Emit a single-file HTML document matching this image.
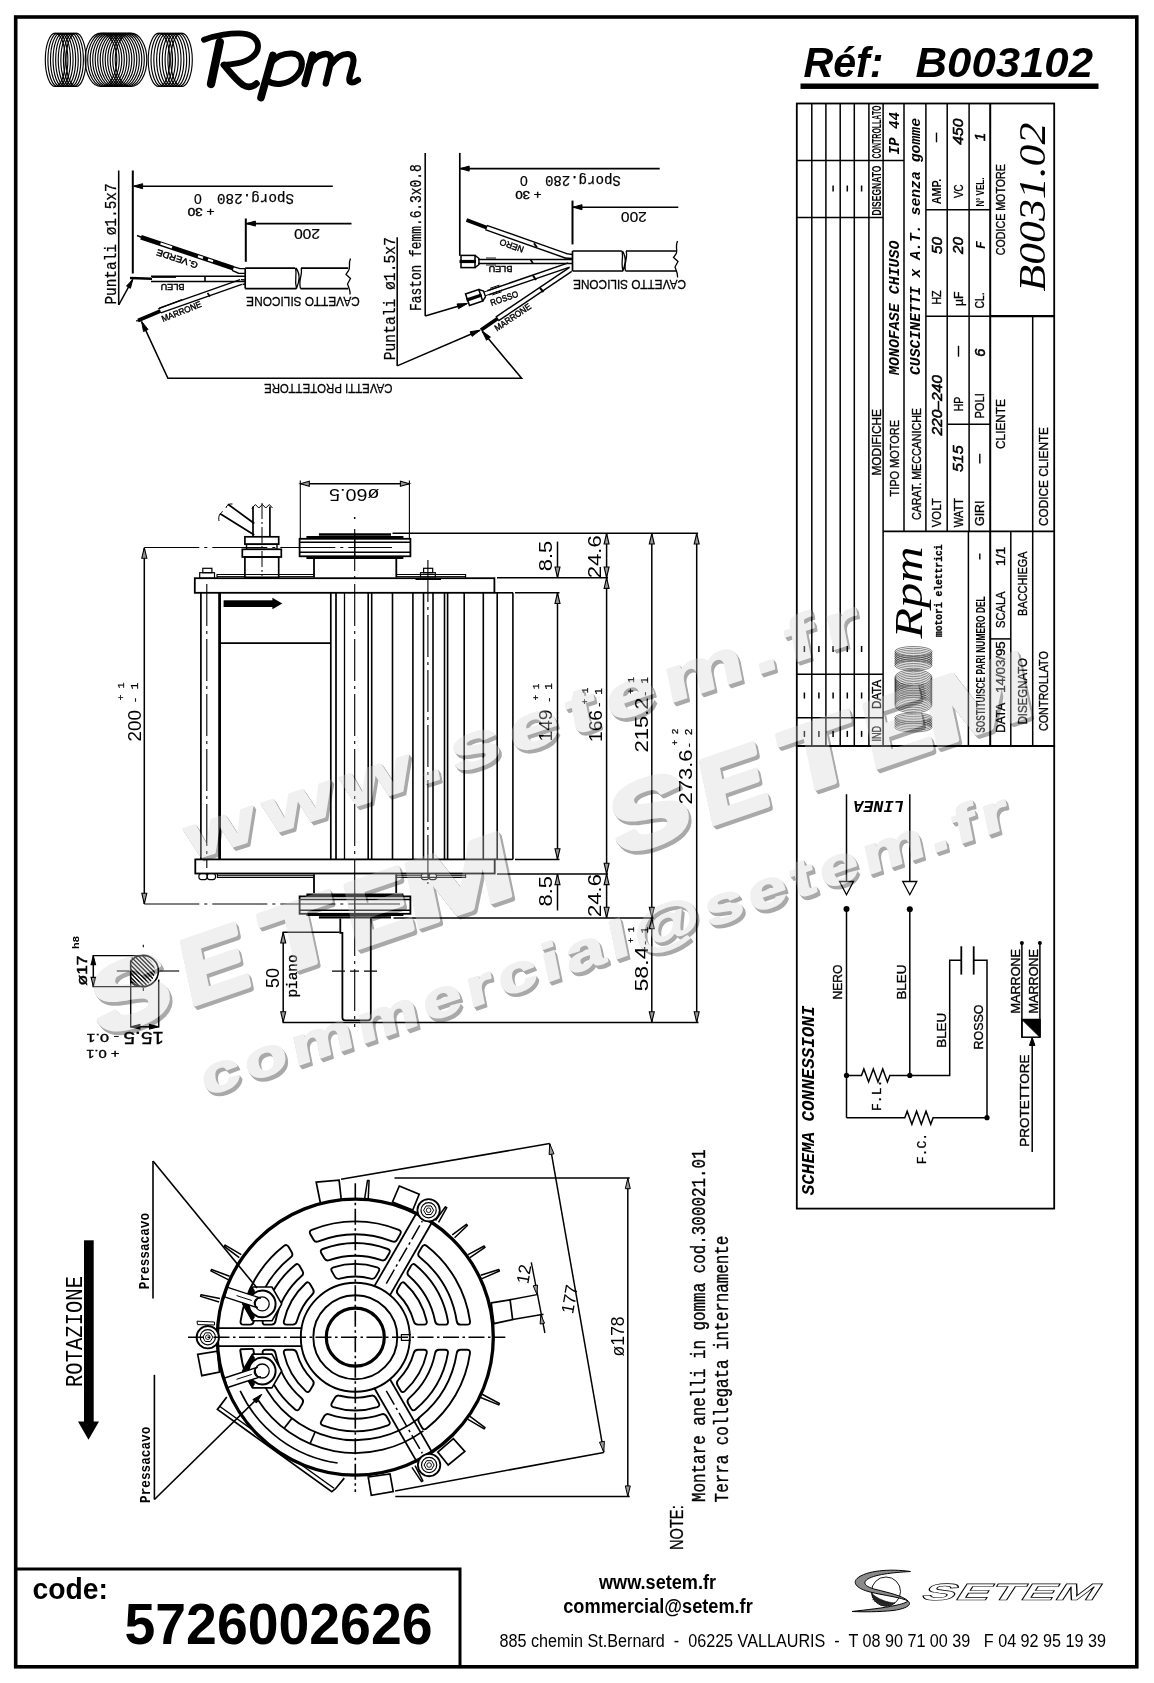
<!DOCTYPE html>
<html><head><meta charset="utf-8"><title>B003102</title><style>
html,body{margin:0;padding:0;background:#fff}
svg{display:block;will-change:transform}

</style></head><body>
<svg width="1154" height="1683" viewBox="0 0 1154 1683" stroke="#000" fill="none" font-family="Liberation Sans, sans-serif">
<g id="frame" stroke="#000" fill="none">
<rect x="15.7" y="17" width="1121.1" height="1649.8" rx="0" fill="none" stroke-width="3.6" />
<path d="M15.7 1569 H460 V1666" fill="none" stroke-width="3" />
</g>
<g id="coils" stroke="#000" fill="none">
<ellipse cx="55.3" cy="59.8" rx="10" ry="26.7" stroke-width="1.15"/>
<ellipse cx="57.89" cy="59.8" rx="10" ry="26.7" stroke-width="1.15"/>
<ellipse cx="60.47" cy="59.8" rx="10" ry="26.7" stroke-width="1.15"/>
<ellipse cx="63.06" cy="59.8" rx="10" ry="26.7" stroke-width="1.15"/>
<ellipse cx="65.65" cy="59.8" rx="10" ry="26.7" stroke-width="1.15"/>
<ellipse cx="68.24" cy="59.8" rx="10" ry="26.7" stroke-width="1.15"/>
<ellipse cx="70.83" cy="59.8" rx="10" ry="26.7" stroke-width="1.15"/>
<ellipse cx="73.41" cy="59.8" rx="10" ry="26.7" stroke-width="1.15"/>
<ellipse cx="76" cy="59.8" rx="10" ry="26.7" stroke-width="1.15"/>
<ellipse cx="101" cy="59.8" rx="15.8" ry="26.7" stroke-width="1.15"/>
<ellipse cx="103.5" cy="59.8" rx="15.8" ry="26.7" stroke-width="1.15"/>
<ellipse cx="106" cy="59.8" rx="15.8" ry="26.7" stroke-width="1.15"/>
<ellipse cx="108.5" cy="59.8" rx="15.8" ry="26.7" stroke-width="1.15"/>
<ellipse cx="111" cy="59.8" rx="15.8" ry="26.7" stroke-width="1.15"/>
<ellipse cx="113.5" cy="59.8" rx="15.8" ry="26.7" stroke-width="1.15"/>
<ellipse cx="116" cy="59.8" rx="15.8" ry="26.7" stroke-width="1.15"/>
<ellipse cx="118.5" cy="59.8" rx="15.8" ry="26.7" stroke-width="1.15"/>
<ellipse cx="121" cy="59.8" rx="15.8" ry="26.7" stroke-width="1.15"/>
<ellipse cx="123.5" cy="59.8" rx="15.8" ry="26.7" stroke-width="1.15"/>
<ellipse cx="126" cy="59.8" rx="15.8" ry="26.7" stroke-width="1.15"/>
<ellipse cx="128.5" cy="59.8" rx="15.8" ry="26.7" stroke-width="1.15"/>
<ellipse cx="131" cy="59.8" rx="15.8" ry="26.7" stroke-width="1.15"/>
<ellipse cx="159" cy="59.8" rx="10.8" ry="26.7" stroke-width="1.15"/>
<ellipse cx="161.81" cy="59.8" rx="10.8" ry="26.7" stroke-width="1.15"/>
<ellipse cx="164.62" cy="59.8" rx="10.8" ry="26.7" stroke-width="1.15"/>
<ellipse cx="167.44" cy="59.8" rx="10.8" ry="26.7" stroke-width="1.15"/>
<ellipse cx="170.25" cy="59.8" rx="10.8" ry="26.7" stroke-width="1.15"/>
<ellipse cx="173.06" cy="59.8" rx="10.8" ry="26.7" stroke-width="1.15"/>
<ellipse cx="175.88" cy="59.8" rx="10.8" ry="26.7" stroke-width="1.15"/>
<ellipse cx="178.69" cy="59.8" rx="10.8" ry="26.7" stroke-width="1.15"/>
<ellipse cx="181.5" cy="59.8" rx="10.8" ry="26.7" stroke-width="1.15"/>
</g>
<g id="rpm" stroke="#000" fill="none" stroke-linecap="round" stroke-linejoin="round">
<path d="M219.8 42 L211 84" fill="none" stroke-width="8.4" />
<path d="M204 39.8 C215 35.5 232 32.6 243 33.6 C253 34.6 258.5 40 258 47 C257.5 55 249 61 238 63.2 C232 64.4 227 64.8 223.5 64.8" fill="none" stroke-width="5.8" />
<path d="M224 65 C229 71 236 80 243 85 C248 88.2 253 87 256.5 83.5" fill="none" stroke-width="6.6" />
<path d="M272.8 55.5 L261 97.5" fill="none" stroke-width="7.6" />
<path d="M270.5 63 C276 57 284 53.2 292 53.6 C299.5 54 302.8 59.5 301.6 66.5 C300 75.5 291 82.5 281 83.8 C275.5 84.4 270.5 83 267 80.5" fill="none" stroke-width="6" />
<path d="M312.5 55 L305 83.5" fill="none" stroke-width="7.2" />
<path d="M309.5 65 C313.5 59 320 53.8 326 54 C331 54.3 331.8 58.5 330.6 63.5 L325.8 83.5" fill="none" stroke-width="6.3" />
<path d="M331 64.5 C335.5 58.5 342 53.8 348 54 C353.5 54.3 354.3 59 353 64.5 L349.6 77 C348.3 82.5 351.5 84.5 358 80" fill="none" stroke-width="6.2" />
</g>
<text transform="translate(803.5,77)" font-family="Liberation Sans" font-size="43" fill="#000" stroke="none" font-weight="bold" font-style="italic" textLength="80" lengthAdjust="spacingAndGlyphs" >Réf:</text>
<text transform="translate(915.5,77)" font-family="Liberation Sans" font-size="43" fill="#000" stroke="none" font-weight="bold" font-style="italic" textLength="177.5" lengthAdjust="spacingAndGlyphs" >B003102</text>
<rect x="801" y="84" width="297" height="4.4" fill="#000"/>
<text transform="translate(32.5,1599)" font-family="Liberation Sans" font-size="30" fill="#000" stroke="none" font-weight="bold" textLength="75.5" lengthAdjust="spacingAndGlyphs" >code:</text>
<text transform="translate(124.5,1644)" font-family="Liberation Sans" font-size="58" fill="#000" stroke="none" font-weight="bold" textLength="308" lengthAdjust="spacingAndGlyphs" >5726002626</text>
<text transform="translate(657.5,1588.6)" font-family="Liberation Sans" font-size="20" fill="#000" stroke="none" font-weight="bold" text-anchor="middle" textLength="117" lengthAdjust="spacingAndGlyphs" >www.setem.fr</text>
<text transform="translate(658,1612.7)" font-family="Liberation Sans" font-size="20" fill="#000" stroke="none" font-weight="bold" text-anchor="middle" textLength="189.5" lengthAdjust="spacingAndGlyphs" >commercial@setem.fr</text>
<text transform="translate(499.5,1647.3)" font-family="Liberation Sans" font-size="17.5" fill="#000" stroke="none" textLength="606.5" lengthAdjust="spacingAndGlyphs" xml:space="preserve">885 chemin St.Bernard  -  06225 VALLAURIS  -  T 08 90 71 00 39   F 04 92 95 19 39</text>
<g id="setemlogo" stroke="#000" fill="none">
<circle cx="886" cy="1591.5" r="14.5" fill="#fff" stroke-width="0.9" />
<path d="M871.6 1593 A14.5 14.5 0 0 0 895 1603 C887 1602.5 877 1599 871.6 1593 Z" fill="#222" stroke-width="0.6" />
<path d="M873 1599 C878 1604 886 1606 892 1604.5" fill="none" stroke-width="2.2" stroke="#333" stroke-dasharray="1 1.2"/>
<path d="M910.5 1571.5 C890 1568.5 866 1570.5 857 1578.5 C852 1583.5 858 1589 870 1592 C884 1595.5 902 1597.5 908 1601 C903.5 1596 888 1592.5 876 1589.5 C866 1587 862.5 1583.5 866.5 1580 C873 1574.5 893 1572.5 910.5 1571.5 Z" fill="#8a8a8a" stroke-width="1.0" />
<path d="M908 1601 C913 1605 905 1609 893 1610.5 C879 1612 863 1612 852 1611.5 C866 1609.8 884 1608 895 1605.5 C902 1604 906 1602.8 908 1601 Z" fill="#8a8a8a" stroke-width="1.0" />
</g>
<g transform="translate(919,1599.8) skewX(-33) scale(2.1,1)"><text x="0" y="0" font-family="Liberation Sans" font-weight="bold" font-size="23.5" fill="#fff" stroke="#000" stroke-width="0.6" textLength="84" lengthAdjust="spacingAndGlyphs">SETEM</text></g>
<g id="table" stroke="#000" fill="none">
<rect x="796.8" y="103.5" width="257.4" height="642.5" rx="0" fill="none" stroke-width="1.8" />
<line x1="811.8" y1="103.5" x2="811.8" y2="746" stroke-width="1.5" />
<line x1="825.9" y1="103.5" x2="825.9" y2="746" stroke-width="1.5" />
<line x1="840.2" y1="103.5" x2="840.2" y2="746" stroke-width="1.5" />
<line x1="854.3" y1="103.5" x2="854.3" y2="746" stroke-width="1.5" />
<line x1="868.9" y1="103.5" x2="868.9" y2="746" stroke-width="1.5" />
<line x1="883.1" y1="103.5" x2="883.1" y2="746" stroke-width="1.5" />
<line x1="904" y1="103.5" x2="904" y2="531.4" stroke-width="1.5" />
<line x1="925.9" y1="103.5" x2="925.9" y2="531.4" stroke-width="1.5" />
<line x1="947.2" y1="103.5" x2="947.2" y2="531.4" stroke-width="1.5" />
<line x1="969.1" y1="103.5" x2="969.1" y2="531.4" stroke-width="1.5" />
<line x1="990.2" y1="103.5" x2="990.2" y2="746" stroke-width="2.0" />
<line x1="796.8" y1="160.5" x2="904" y2="160.5" stroke-width="1.5" />
<line x1="796.8" y1="217.5" x2="883.1" y2="217.5" stroke-width="1.5" />
<line x1="925.9" y1="209.8" x2="990.2" y2="209.8" stroke-width="1.5" />
<line x1="925.9" y1="316.2" x2="1054.2" y2="316.2" stroke-width="1.5" />
<line x1="990.2" y1="316.2" x2="1054.2" y2="316.2" stroke-width="2.2" />
<line x1="1032.7" y1="316.2" x2="1032.7" y2="746" stroke-width="1.5" />
<line x1="947.2" y1="424.2" x2="990.2" y2="424.2" stroke-width="1.5" />
<line x1="883.1" y1="531.4" x2="1054.2" y2="531.4" stroke-width="1.8" />
<line x1="968.4" y1="531.4" x2="968.4" y2="746" stroke-width="1.5" />
<line x1="1010.8" y1="531.4" x2="1010.8" y2="746" stroke-width="1.5" />
<line x1="990.2" y1="638.9" x2="1010.8" y2="638.9" stroke-width="1.5" />
<line x1="796.8" y1="674.2" x2="883.1" y2="674.2" stroke-width="1.5" />
<line x1="796.8" y1="717.8" x2="883.1" y2="717.8" stroke-width="1.5" />
<line x1="833.1" y1="185.5" x2="833.1" y2="191.5" stroke-width="1.5" />
<line x1="847.3" y1="185.5" x2="847.3" y2="191.5" stroke-width="1.5" />
<line x1="861.6" y1="185.5" x2="861.6" y2="191.5" stroke-width="1.5" />
<line x1="804.4" y1="646" x2="804.4" y2="652" stroke-width="1.5" />
<line x1="818.9" y1="646" x2="818.9" y2="652" stroke-width="1.5" />
<line x1="833.1" y1="646" x2="833.1" y2="652" stroke-width="1.5" />
<line x1="847.3" y1="646" x2="847.3" y2="652" stroke-width="1.5" />
<line x1="861.6" y1="646" x2="861.6" y2="652" stroke-width="1.5" />
<line x1="804.4" y1="692.5" x2="804.4" y2="698.5" stroke-width="1.5" />
<line x1="818.9" y1="692.5" x2="818.9" y2="698.5" stroke-width="1.5" />
<line x1="833.1" y1="692.5" x2="833.1" y2="698.5" stroke-width="1.5" />
<line x1="847.3" y1="692.5" x2="847.3" y2="698.5" stroke-width="1.5" />
<line x1="861.6" y1="692.5" x2="861.6" y2="698.5" stroke-width="1.5" />
<line x1="804.4" y1="730.9" x2="804.4" y2="736.9" stroke-width="1.5" />
<line x1="818.9" y1="730.9" x2="818.9" y2="736.9" stroke-width="1.5" />
<line x1="833.1" y1="730.9" x2="833.1" y2="736.9" stroke-width="1.5" />
<line x1="847.3" y1="730.9" x2="847.3" y2="736.9" stroke-width="1.5" />
<line x1="861.6" y1="730.9" x2="861.6" y2="736.9" stroke-width="1.5" />
</g>
<text transform="translate(880.6,158.5) rotate(-90)" font-family="Liberation Sans" font-size="12" fill="#000" stroke="none" font-weight="bold" textLength="53" lengthAdjust="spacingAndGlyphs" >CONTROLLATO</text>
<text transform="translate(880.6,215.5) rotate(-90)" font-family="Liberation Sans" font-size="12" fill="#000" stroke="none" font-weight="bold" textLength="50" lengthAdjust="spacingAndGlyphs" >DISEGNATO</text>
<text transform="translate(880.6,475.5) rotate(-90)" font-family="Liberation Sans" font-size="12.8" fill="#000" stroke="#000" stroke-width="0.35" textLength="66.5" lengthAdjust="spacingAndGlyphs" >MODIFICHE</text>
<text transform="translate(880.6,708.9) rotate(-90)" font-family="Liberation Sans" font-size="12.8" fill="#000" stroke="#000" stroke-width="0.35" textLength="29" lengthAdjust="spacingAndGlyphs" >DATA</text>
<text transform="translate(880.6,741.6) rotate(-90)" font-family="Liberation Sans" font-size="12.8" fill="#000" stroke="#000" stroke-width="0.35" textLength="15.5" lengthAdjust="spacingAndGlyphs" >IND</text>
<text transform="translate(898.5,154.5) rotate(-90)" font-family="Liberation Mono" font-size="15" fill="#000" stroke="none" font-weight="bold" font-style="italic" textLength="42.5" lengthAdjust="spacingAndGlyphs" >IP 44</text>
<text transform="translate(898.5,375) rotate(-90)" font-family="Liberation Mono" font-size="15" fill="#000" stroke="none" font-weight="bold" font-style="italic" textLength="134.5" lengthAdjust="spacingAndGlyphs" >MONOFASE CHIUSO</text>
<text transform="translate(898.8,496.5) rotate(-90)" font-family="Liberation Sans" font-size="12.8" fill="#000" stroke="#000" stroke-width="0.35" textLength="76.5" lengthAdjust="spacingAndGlyphs" >TIPO MOTORE</text>
<text transform="translate(920.3,375) rotate(-90)" font-family="Liberation Mono" font-size="15" fill="#000" stroke="none" font-weight="bold" font-style="italic" textLength="257" lengthAdjust="spacingAndGlyphs" >CUSCINETTI x A.T. senza gomme</text>
<text transform="translate(920.6,520) rotate(-90)" font-family="Liberation Sans" font-size="12.8" fill="#000" stroke="#000" stroke-width="0.35" textLength="112" lengthAdjust="spacingAndGlyphs" >CARAT. MECCANICHE</text>
<text transform="translate(941,527.3) rotate(-90)" font-family="Liberation Sans" font-size="12.8" fill="#000" stroke="#000" stroke-width="0.35" textLength="29" lengthAdjust="spacingAndGlyphs" >VOLT</text>
<text transform="translate(941.8,435.6) rotate(-90)" font-family="Liberation Sans" font-size="14.6" fill="#000" stroke="#000" stroke-width="0.55" font-style="italic" textLength="60.5" lengthAdjust="spacingAndGlyphs" >220–240</text>
<text transform="translate(941,304.8) rotate(-90)" font-family="Liberation Sans" font-size="12.8" fill="#000" stroke="#000" stroke-width="0.35" textLength="14.5" lengthAdjust="spacingAndGlyphs" >HZ</text>
<text transform="translate(941.8,254) rotate(-90)" font-family="Liberation Sans" font-size="14.6" fill="#000" stroke="#000" stroke-width="0.55" font-style="italic" textLength="17" lengthAdjust="spacingAndGlyphs" >50</text>
<text transform="translate(941,204.2) rotate(-90)" font-family="Liberation Sans" font-size="12" fill="#000" stroke="none" font-weight="bold" textLength="25.5" lengthAdjust="spacingAndGlyphs" >AMP.</text>
<line x1="936.5" y1="132.6" x2="936.5" y2="142.3" stroke-width="1.4" />
<text transform="translate(962.6,527.3) rotate(-90)" font-family="Liberation Sans" font-size="12.8" fill="#000" stroke="#000" stroke-width="0.35" textLength="29" lengthAdjust="spacingAndGlyphs" >WATT</text>
<text transform="translate(963.2,472) rotate(-90)" font-family="Liberation Sans" font-size="14.6" fill="#000" stroke="#000" stroke-width="0.55" font-style="italic" textLength="26.5" lengthAdjust="spacingAndGlyphs" >515</text>
<text transform="translate(962.6,411.3) rotate(-90)" font-family="Liberation Sans" font-size="12.8" fill="#000" stroke="#000" stroke-width="0.35" textLength="14.5" lengthAdjust="spacingAndGlyphs" >HP</text>
<line x1="958.5" y1="345.8" x2="958.5" y2="356.7" stroke-width="1.4" />
<text transform="translate(962.6,306) rotate(-90)" font-family="Liberation Sans" font-size="12.8" fill="#000" stroke="#000" stroke-width="0.35" textLength="14.5" lengthAdjust="spacingAndGlyphs" >µF</text>
<text transform="translate(963.2,254) rotate(-90)" font-family="Liberation Sans" font-size="14.6" fill="#000" stroke="#000" stroke-width="0.55" font-style="italic" textLength="17" lengthAdjust="spacingAndGlyphs" >20</text>
<text transform="translate(962.6,198.1) rotate(-90)" font-family="Liberation Sans" font-size="12.8" fill="#000" stroke="#000" stroke-width="0.35" textLength="13.5" lengthAdjust="spacingAndGlyphs" >VC</text>
<text transform="translate(963.2,144.7) rotate(-90)" font-family="Liberation Sans" font-size="14.6" fill="#000" stroke="#000" stroke-width="0.55" font-style="italic" textLength="26" lengthAdjust="spacingAndGlyphs" >450</text>
<text transform="translate(984.2,526) rotate(-90)" font-family="Liberation Sans" font-size="12.8" fill="#000" stroke="#000" stroke-width="0.35" textLength="25.5" lengthAdjust="spacingAndGlyphs" >GIRI</text>
<line x1="979.8" y1="453.8" x2="979.8" y2="463.5" stroke-width="1.4" />
<text transform="translate(984.2,418.6) rotate(-90)" font-family="Liberation Sans" font-size="12.8" fill="#000" stroke="#000" stroke-width="0.35" textLength="25.5" lengthAdjust="spacingAndGlyphs" >POLI</text>
<text transform="translate(984.6,356.7) rotate(-90)" font-family="Liberation Sans" font-size="14.6" fill="#000" stroke="#000" stroke-width="0.55" font-style="italic" >6</text>
<text transform="translate(984.2,308.4) rotate(-90)" font-family="Liberation Sans" font-size="12.8" fill="#000" stroke="#000" stroke-width="0.35" textLength="16" lengthAdjust="spacingAndGlyphs" >CL.</text>
<text transform="translate(984.6,249) rotate(-90)" font-family="Liberation Mono" font-size="13" fill="#000" stroke="none" font-weight="bold" font-style="italic" >F</text>
<text transform="translate(984.2,206.6) rotate(-90)" font-family="Liberation Sans" font-size="11.5" fill="#000" stroke="none" font-weight="bold" textLength="29" lengthAdjust="spacingAndGlyphs" >N° VEL.</text>
<text transform="translate(984.6,141) rotate(-90)" font-family="Liberation Sans" font-size="14.6" fill="#000" stroke="#000" stroke-width="0.55" font-style="italic" >1</text>
<text transform="translate(1005,255.2) rotate(-90)" font-family="Liberation Sans" font-size="12.8" fill="#000" stroke="#000" stroke-width="0.35" textLength="91" lengthAdjust="spacingAndGlyphs" >CODICE MOTORE</text>
<text transform="translate(1044.5,291.6) rotate(-90)" font-family="Liberation Serif" font-size="37.5" fill="#000" stroke="none" font-style="italic" textLength="169" lengthAdjust="spacingAndGlyphs" >B0031.02</text>
<text transform="translate(1005,449) rotate(-90)" font-family="Liberation Sans" font-size="12.8" fill="#000" stroke="#000" stroke-width="0.35" textLength="50" lengthAdjust="spacingAndGlyphs" >CLIENTE</text>
<text transform="translate(1047.6,526) rotate(-90)" font-family="Liberation Sans" font-size="12.8" fill="#000" stroke="#000" stroke-width="0.35" textLength="99" lengthAdjust="spacingAndGlyphs" >CODICE CLIENTE</text>
<text transform="translate(984.8,732.8) rotate(-90)" font-family="Liberation Sans" font-size="12.6" fill="#000" stroke="none" font-weight="bold" textLength="136.5" lengthAdjust="spacingAndGlyphs" >SOSTITUISCE PARI NUMERO DEL</text>
<line x1="979.8" y1="553.5" x2="979.8" y2="559.5" stroke-width="1.4" />
<text transform="translate(1005,732.8) rotate(-90)" font-family="Liberation Sans" font-size="12.8" fill="#000" stroke="#000" stroke-width="0.35" textLength="30" lengthAdjust="spacingAndGlyphs" >DATA</text>
<text transform="translate(1005,692.8) rotate(-90)" font-family="Liberation Sans" font-size="12.8" fill="#000" stroke="#000" stroke-width="0.35" textLength="51.5" lengthAdjust="spacingAndGlyphs" >14/03/95</text>
<text transform="translate(1005,628) rotate(-90)" font-family="Liberation Sans" font-size="12.8" fill="#000" stroke="#000" stroke-width="0.35" textLength="36.5" lengthAdjust="spacingAndGlyphs" >SCALA</text>
<text transform="translate(1005,566.1) rotate(-90)" font-family="Liberation Sans" font-size="12.8" fill="#000" stroke="#000" stroke-width="0.35" textLength="19.5" lengthAdjust="spacingAndGlyphs" >1/1</text>
<text transform="translate(1026.6,724.5) rotate(-90)" font-family="Liberation Sans" font-size="12.8" fill="#000" stroke="#000" stroke-width="0.35" textLength="66.5" lengthAdjust="spacingAndGlyphs" >DISEGNATO</text>
<text transform="translate(1026.6,615.9) rotate(-90)" font-family="Liberation Sans" font-size="12.8" fill="#000" stroke="#000" stroke-width="0.35" textLength="64.5" lengthAdjust="spacingAndGlyphs" >BACCHIEGA</text>
<text transform="translate(1047.6,731.1) rotate(-90)" font-family="Liberation Sans" font-size="12.8" fill="#000" stroke="#000" stroke-width="0.35" textLength="80" lengthAdjust="spacingAndGlyphs" >CONTROLLATO</text>
<text transform="translate(921.5,638.5) rotate(-90)" font-family="Liberation Serif" font-size="41" fill="#000" stroke="none" font-style="italic" textLength="92" lengthAdjust="spacingAndGlyphs" >Rpm</text>
<text transform="translate(941.5,637) rotate(-90)" font-family="Liberation Mono" font-size="10.2" fill="#000" stroke="#000" stroke-width="0.3" font-weight="bold" textLength="92.5" lengthAdjust="spacingAndGlyphs" >motori elettrici</text>
<g id="tcoil" stroke="#000" fill="none">
<ellipse cx="913.4" cy="651.5" rx="18.6" ry="5" stroke-width="0.5"/>
<ellipse cx="913.4" cy="653.25" rx="18.6" ry="5" stroke-width="0.5"/>
<ellipse cx="913.4" cy="655" rx="18.6" ry="5" stroke-width="0.5"/>
<ellipse cx="913.4" cy="656.75" rx="18.6" ry="5" stroke-width="0.5"/>
<ellipse cx="913.4" cy="658.5" rx="18.6" ry="5" stroke-width="0.5"/>
<ellipse cx="913.4" cy="660.25" rx="18.6" ry="5" stroke-width="0.5"/>
<ellipse cx="913.4" cy="662" rx="18.6" ry="5" stroke-width="0.5"/>
<ellipse cx="913.4" cy="663.75" rx="18.6" ry="5" stroke-width="0.5"/>
<ellipse cx="913.4" cy="665.5" rx="18.6" ry="5" stroke-width="0.5"/>
<ellipse cx="913.4" cy="677.5" rx="18.6" ry="8" stroke-width="0.5"/>
<ellipse cx="913.4" cy="679.22" rx="18.6" ry="8" stroke-width="0.5"/>
<ellipse cx="913.4" cy="680.94" rx="18.6" ry="8" stroke-width="0.5"/>
<ellipse cx="913.4" cy="682.66" rx="18.6" ry="8" stroke-width="0.5"/>
<ellipse cx="913.4" cy="684.38" rx="18.6" ry="8" stroke-width="0.5"/>
<ellipse cx="913.4" cy="686.09" rx="18.6" ry="8" stroke-width="0.5"/>
<ellipse cx="913.4" cy="687.81" rx="18.6" ry="8" stroke-width="0.5"/>
<ellipse cx="913.4" cy="689.53" rx="18.6" ry="8" stroke-width="0.5"/>
<ellipse cx="913.4" cy="691.25" rx="18.6" ry="8" stroke-width="0.5"/>
<ellipse cx="913.4" cy="692.97" rx="18.6" ry="8" stroke-width="0.5"/>
<ellipse cx="913.4" cy="694.69" rx="18.6" ry="8" stroke-width="0.5"/>
<ellipse cx="913.4" cy="696.41" rx="18.6" ry="8" stroke-width="0.5"/>
<ellipse cx="913.4" cy="698.12" rx="18.6" ry="8" stroke-width="0.5"/>
<ellipse cx="913.4" cy="699.84" rx="18.6" ry="8" stroke-width="0.5"/>
<ellipse cx="913.4" cy="701.56" rx="18.6" ry="8" stroke-width="0.5"/>
<ellipse cx="913.4" cy="703.28" rx="18.6" ry="8" stroke-width="0.5"/>
<ellipse cx="913.4" cy="705" rx="18.6" ry="8" stroke-width="0.5"/>
<ellipse cx="913.4" cy="717.5" rx="18.6" ry="4.5" stroke-width="0.5"/>
<ellipse cx="913.4" cy="719.17" rx="18.6" ry="4.5" stroke-width="0.5"/>
<ellipse cx="913.4" cy="720.83" rx="18.6" ry="4.5" stroke-width="0.5"/>
<ellipse cx="913.4" cy="722.5" rx="18.6" ry="4.5" stroke-width="0.5"/>
<ellipse cx="913.4" cy="724.17" rx="18.6" ry="4.5" stroke-width="0.5"/>
<ellipse cx="913.4" cy="725.83" rx="18.6" ry="4.5" stroke-width="0.5"/>
<ellipse cx="913.4" cy="727.5" rx="18.6" ry="4.5" stroke-width="0.5"/>
</g>
<g id="schema" stroke="#000" fill="none">
<rect x="796.8" y="746" width="257.4" height="462.6" rx="0" fill="none" stroke-width="1.8" />
<line x1="846.5" y1="794.2" x2="846.5" y2="881.5" stroke-width="1.5" />
<polygon points="839.5,881.5 853.5,881.5 846.5,894.7" fill="#fff" stroke-width="1.3" />
<line x1="909.8" y1="794.2" x2="909.8" y2="881.5" stroke-width="1.5" />
<polygon points="902.8,881.5 916.8,881.5 909.8,894.7" fill="#fff" stroke-width="1.3" />
<circle cx="846.5" cy="908.9" r="3" fill="#000" stroke-width="0" />
<circle cx="909.8" cy="909.3" r="3" fill="#000" stroke-width="0" />
<line x1="846.5" y1="909" x2="846.5" y2="1117.7" stroke-width="1.5" />
<line x1="909.8" y1="909" x2="909.8" y2="1075.4" stroke-width="1.5" />
<polyline points="846.5,1075.4 861.5,1075.4 863.86,1068.9 868.58,1081.9 873.29,1068.9 878.01,1081.9 882.73,1068.9 887.44,1081.9 889.8,1075.4 949.7,1075.4 949.7,960.3 961.3,960.3" fill="none" stroke-width="1.5" />
<circle cx="846.5" cy="1075.4" r="2.6" fill="#000" stroke-width="0" />
<circle cx="909.8" cy="1075.4" r="2.6" fill="#000" stroke-width="0" />
<line x1="961.3" y1="946.3" x2="961.3" y2="974.6" stroke-width="1.8" />
<line x1="973.7" y1="946.3" x2="973.7" y2="974.6" stroke-width="1.8" />
<polyline points="973.7,960.3 987,960.3 987,1117.7" fill="none" stroke-width="1.5" />
<circle cx="987" cy="1117.7" r="2.6" fill="#000" stroke-width="0" />
<polyline points="846.5,1117.7 904.8,1117.7 907.16,1111.2 911.88,1124.2 916.59,1111.2 921.31,1124.2 926.03,1111.2 930.74,1124.2 933.1,1117.7 987,1117.7" fill="none" stroke-width="1.5" />
<line x1="1021.9" y1="943" x2="1021.9" y2="1037.2" stroke-width="1.5" />
<line x1="1039.9" y1="943" x2="1039.9" y2="1037.2" stroke-width="1.5" />
<circle cx="1021.9" cy="943" r="2" fill="#000" stroke-width="0" />
<circle cx="1039.9" cy="943" r="2" fill="#000" stroke-width="0" />
<rect x="1021.9" y="1019.5" width="18" height="17.7" rx="0" fill="none" stroke-width="1.5" />
<polygon points="1021.9,1019.5 1039.9,1019.5 1039.9,1037.2" fill="#000" stroke-width="1" />
<line x1="1032.2" y1="1038" x2="1032.2" y2="1152" stroke-width="1.5" />
<polygon points="1032.2,1037.5 1034.95,1045.5 1029.45,1045.5" fill="#000" stroke-width="1.0" />
</g>
<text transform="translate(813.5,1195.2) rotate(-90)" font-family="Liberation Mono" font-size="17.5" fill="#000" stroke="none" font-weight="bold" font-style="italic" textLength="189.6" lengthAdjust="spacingAndGlyphs" >SCHEMA CONNESSIONI</text>
<text transform="translate(904,801) rotate(180)" font-family="Liberation Mono" font-size="16" fill="#000" stroke="none" font-weight="bold" font-style="italic" textLength="50.5" lengthAdjust="spacingAndGlyphs" >LINEA</text>
<text transform="translate(841.5,999.6) rotate(-90)" font-family="Liberation Sans" font-size="13.2" fill="#000" stroke="#000" stroke-width="0.35" textLength="35" lengthAdjust="spacingAndGlyphs" >NERO</text>
<text transform="translate(906.2,999.6) rotate(-90)" font-family="Liberation Sans" font-size="13.2" fill="#000" stroke="#000" stroke-width="0.35" textLength="35" lengthAdjust="spacingAndGlyphs" >BLEU</text>
<text transform="translate(946.2,1047.8) rotate(-90)" font-family="Liberation Sans" font-size="13.2" fill="#000" stroke="#000" stroke-width="0.35" textLength="35" lengthAdjust="spacingAndGlyphs" >BLEU</text>
<text transform="translate(983,1049.5) rotate(-90)" font-family="Liberation Sans" font-size="13.2" fill="#000" stroke="#000" stroke-width="0.35" textLength="45" lengthAdjust="spacingAndGlyphs" >ROSSO</text>
<text transform="translate(881,1111) rotate(-90)" font-family="Liberation Mono" font-size="12.5" fill="#000" stroke="#000" stroke-width="0.3" textLength="31.5" lengthAdjust="spacingAndGlyphs" >F.L.</text>
<text transform="translate(926,1164.3) rotate(-90)" font-family="Liberation Mono" font-size="12.5" fill="#000" stroke="#000" stroke-width="0.3" textLength="31.5" lengthAdjust="spacingAndGlyphs" >F.C.</text>
<text transform="translate(1019.8,1013.5) rotate(-90)" font-family="Liberation Sans" font-size="13.2" fill="#000" stroke="#000" stroke-width="0.35" textLength="64.5" lengthAdjust="spacingAndGlyphs" >MARRONE</text>
<text transform="translate(1037.6,1013.5) rotate(-90)" font-family="Liberation Sans" font-size="13.2" fill="#000" stroke="#000" stroke-width="0.35" textLength="64.5" lengthAdjust="spacingAndGlyphs" >MARRONE</text>
<text transform="translate(1029.4,1146.7) rotate(-90)" font-family="Liberation Sans" font-size="13.2" fill="#000" stroke="#000" stroke-width="0.35" textLength="92.2" lengthAdjust="spacingAndGlyphs" >PROTETTORE</text>
<g id="cables" stroke="#000" fill="none">
<line x1="118.7" y1="170.5" x2="118.7" y2="305" stroke-width="1.55" />
<line x1="118.7" y1="305" x2="132.6" y2="279.6" stroke-width="1.55" />
<polygon points="132.8,279.3 130.45,288.28 126.51,286.11" fill="#000" stroke-width="1.0" />
<line x1="132.8" y1="170.5" x2="132.8" y2="273.5" stroke-width="2.0" />
<line x1="134" y1="186.2" x2="332.8" y2="186.2" stroke-width="1.55" />
<polygon points="133.6,186.2 142.6,183.7 142.6,188.7" fill="#000" stroke-width="1.0" />
<line x1="245.8" y1="218.5" x2="245.8" y2="261.8" stroke-width="2.0" />
<line x1="246" y1="223.6" x2="351.5" y2="223.6" stroke-width="1.55" />
<polygon points="246.4,223.6 255.4,221.1 255.4,226.1" fill="#000" stroke-width="1.0" />
<path d="M245.2 268.2 H295.3 M245.2 288.6 H296.5 M301 268.2 H348.3 M300.5 288.6 H348.3 M245.2 268.2 V288.6" fill="none" stroke-width="1.7" />
<path d="M295.3 268.2 C297.5 273 294 279 296.5 288.6 M301 268.2 C303.2 273 298 280 300.5 288.6 M296 268 C301 275 299 282 296.5 288.6" fill="none" stroke-width="1.3" />
<path d="M350.5 258.5 C348 264 351 268 348.3 271 L346 274.5 L350.5 278.5 L347.5 284 C349 288 350.5 291 350 294.5" fill="none" stroke-width="1.3" />
<line x1="141" y1="237.2" x2="233.5" y2="268.2" stroke-width="4.6" />
<path d="M233 266.6 L240 268.6 L245.2 268.6 M232 270.4 L238.5 273.2 L245.2 273.4" fill="none" stroke-width="1.4" />
<line x1="160.5" y1="243.5" x2="172" y2="247.4" stroke-width="2.2" stroke="#fff"/>
<line x1="198" y1="256.2" x2="203" y2="257.9" stroke-width="2.2" stroke="#fff"/>
<line x1="208" y1="259.5" x2="213" y2="261.2" stroke-width="2.2" stroke="#fff"/>
<line x1="137" y1="235.6" x2="142" y2="237.4" stroke-width="1.6" />
<line x1="151" y1="281.4" x2="245.2" y2="281.4" stroke-width="1.45" />
<line x1="151" y1="276.2" x2="245.2" y2="276.2" stroke-width="1.45" />
<line x1="130" y1="278" x2="152" y2="278.8" stroke-width="2.6" />
<line x1="152" y1="277.3" x2="176" y2="277.3" stroke-width="1.2" />
<line x1="205" y1="276.3" x2="205" y2="281.3" stroke-width="1.6" />
<line x1="160.83" y1="312.86" x2="241.83" y2="284.36" stroke-width="1.45" />
<line x1="159.17" y1="308.14" x2="240.17" y2="279.64" stroke-width="1.45" />
<line x1="138" y1="320.5" x2="160.5" y2="311" stroke-width="3.6" />
<line x1="158" y1="309" x2="182" y2="299.6" stroke-width="1.2" />
<line x1="207.5" y1="293" x2="210" y2="296.5" stroke-width="1.6" />
<path d="M241 279.7 L245.2 280 M242.5 284.5 L245.2 284" fill="none" stroke-width="1.3" />
<line x1="136" y1="320.8" x2="141" y2="320.8" stroke-width="1.2" />
<polyline points="141.8,321.8 167.9,378.3 521.6,378.3 482.4,331.4" fill="none" stroke-width="1.55" />
<polygon points="141.6,321.4 148.06,329.43 143.53,331.53" fill="#000" stroke-width="1.0" />
<polygon points="482.1,331 490.43,337.07 486.59,340.28" fill="#000" stroke-width="1.0" />
<line x1="397.2" y1="237.2" x2="397.2" y2="365.9" stroke-width="1.55" />
<line x1="397.2" y1="365.9" x2="479.5" y2="330.5" stroke-width="1.55" />
<polygon points="480.3,330.1 472.11,336.36 470.13,331.77" fill="#000" stroke-width="1.0" />
<line x1="425.2" y1="152.9" x2="425.2" y2="315.9" stroke-width="1.55" />
<line x1="425.2" y1="315.9" x2="466.5" y2="303.8" stroke-width="1.55" />
<polygon points="467.4,303.5 458.51,308.71 457.1,303.91" fill="#000" stroke-width="1.0" />
<line x1="459.8" y1="152.9" x2="459.8" y2="255.8" stroke-width="1.7" />
<line x1="460.4" y1="168.6" x2="659.7" y2="168.6" stroke-width="1.55" />
<polygon points="460.2,168.6 469.2,166.1 469.2,171.1" fill="#000" stroke-width="1.0" />
<line x1="572.5" y1="200.6" x2="572.5" y2="244.4" stroke-width="2.0" />
<line x1="573" y1="207.2" x2="678.3" y2="207.2" stroke-width="1.55" />
<polygon points="573,207.2 582,204.7 582,209.7" fill="#000" stroke-width="1.0" />
<path d="M572.5 251 H621.8 M572.5 271 H623 M626 251 H676 M625.5 271 H676 M572.5 251 V271" fill="none" stroke-width="1.7" />
<path d="M621.8 251 C624 256 620.5 262 623 271 M626 251 C628.5 256 623.5 263 625.5 271 M622.5 251 C627 258 625 265 623 271" fill="none" stroke-width="1.3" />
<path d="M677.5 241 C675 247 678 251 676 254 L673.5 257.5 L678 261.5 L675 267 C676.5 271 678 274 677.5 277.5" fill="none" stroke-width="1.3" />
<line x1="485.23" y1="229.67" x2="565.23" y2="257.97" stroke-width="1.45" />
<line x1="486.77" y1="225.33" x2="566.77" y2="253.63" stroke-width="1.45" />
<line x1="466.5" y1="220" x2="487" y2="227.8" stroke-width="3.6" />
<line x1="534" y1="243.2" x2="537" y2="247.5" stroke-width="2.0" />
<path d="M566 253.6 L572.5 254.5 M564.5 258 L572.5 258.5" fill="none" stroke-width="1.3" />
<line x1="478" y1="263.5" x2="572.5" y2="263.5" stroke-width="1.3" />
<line x1="478" y1="259.5" x2="572.5" y2="259.5" stroke-width="1.3" />
<rect x="461" y="255.4" width="14" height="12.2" rx="0" fill="none" stroke-width="1.55" />
<path d="M475 255.4 L479 258.5 V264.5 L475 267.6" fill="none" stroke-width="1.45" />
<line x1="459.5" y1="261.5" x2="476" y2="261.5" stroke-width="3.2" />
<path d="M479 259.5 H497 M479 263.5 H497 M486 258 H496 M486 265 H496" fill="none" stroke-width="0.9" />
<line x1="530.5" y1="259.5" x2="533" y2="263.5" stroke-width="1.6" />
<line x1="488.71" y1="294.88" x2="569.71" y2="267.08" stroke-width="1.45" />
<line x1="487.29" y1="290.72" x2="568.29" y2="262.92" stroke-width="1.45" />
<g transform="translate(467.5,299.8) rotate(-19)">
<rect x="0" y="-6.1" width="14" height="12.2" rx="0" fill="none" stroke-width="1.55" />
<path d="M14 -6.1 L18 -3 V3 L14 6.1" fill="none" stroke-width="1.45" />
<line x1="-1" y1="0" x2="15" y2="0" stroke-width="3.2" />
<path d="M18 -2 H36 M18 2 H36 M25 -3.5 H35 M25 3.5 H35" fill="none" stroke-width="0.9" />
</g>
<line x1="533" y1="275.5" x2="536" y2="280" stroke-width="2.0" />
<line x1="498.28" y1="320.91" x2="571.78" y2="271.41" stroke-width="1.45" />
<line x1="495.72" y1="317.09" x2="569.22" y2="267.59" stroke-width="1.45" />
<line x1="481" y1="330" x2="498" y2="318.3" stroke-width="3.8" />
<line x1="540" y1="288" x2="543.5" y2="292" stroke-width="2.0" />
</g>
<text transform="translate(116.2,304.6) rotate(-90)" font-family="Liberation Mono" font-size="16.2" fill="#000" stroke="#000" stroke-width="0.25" textLength="121.2" lengthAdjust="spacingAndGlyphs" >Puntali ø1.5x7</text>
<text transform="translate(294,193.9) rotate(180)" font-family="Liberation Mono" font-size="14.6" fill="#000" stroke="#000" stroke-width="0.25" textLength="77" lengthAdjust="spacingAndGlyphs" >Sporg.280</text>
<text transform="translate(201.8,193.9) rotate(180)" font-family="Liberation Sans" font-size="14" fill="#000" stroke="#000" stroke-width="0.2" >0</text>
<text transform="translate(214.6,208.2) rotate(180)" font-family="Liberation Sans" font-size="11.5" fill="#000" stroke="#000" stroke-width="0.4" textLength="27" lengthAdjust="spacingAndGlyphs" >+ 30</text>
<text transform="translate(320,229) rotate(180)" font-family="Liberation Sans" font-size="14" fill="#000" stroke="#000" stroke-width="0.2" textLength="26" lengthAdjust="spacingAndGlyphs" >200</text>
<text transform="translate(359.7,296.9) rotate(180)" font-family="Liberation Sans" font-size="13" fill="#000" stroke="#000" stroke-width="0.3" textLength="113.5" lengthAdjust="spacingAndGlyphs" >CAVETTO SILICONE</text>
<text transform="translate(392.5,383.6) rotate(180)" font-family="Liberation Sans" font-size="13" fill="#000" stroke="#000" stroke-width="0.3" textLength="128.5" lengthAdjust="spacingAndGlyphs" >CAVETTI PROTETTORE</text>
<text transform="translate(198.5,262.8) rotate(198.5)" font-family="Liberation Sans" font-size="8.8" fill="#000" stroke="#000" stroke-width="0.45" textLength="43" lengthAdjust="spacingAndGlyphs" >G.VERDE</text>
<text transform="translate(184.5,283.5) rotate(180)" font-family="Liberation Sans" font-size="8.5" fill="#000" stroke="#000" stroke-width="0.4" textLength="24" lengthAdjust="spacingAndGlyphs" >BLEU</text>
<text transform="translate(163,322) rotate(-21.5)" font-family="Liberation Sans" font-size="8.8" fill="#000" stroke="#000" stroke-width="0.4" textLength="42" lengthAdjust="spacingAndGlyphs" >MARRONE</text>
<text transform="translate(395.2,360.2) rotate(-90)" font-family="Liberation Mono" font-size="16.2" fill="#000" stroke="#000" stroke-width="0.25" textLength="123" lengthAdjust="spacingAndGlyphs" >Puntali ø1.5x7</text>
<text transform="translate(421.2,311) rotate(-90)" font-family="Liberation Mono" font-size="16.2" fill="#000" stroke="#000" stroke-width="0.25" textLength="146.7" lengthAdjust="spacingAndGlyphs" >Faston femm.6.3x0.8</text>
<text transform="translate(620.8,176.3) rotate(180)" font-family="Liberation Mono" font-size="14.6" fill="#000" stroke="#000" stroke-width="0.25" textLength="75.8" lengthAdjust="spacingAndGlyphs" >Sporg.280</text>
<text transform="translate(527.8,176.3) rotate(180)" font-family="Liberation Sans" font-size="14" fill="#000" stroke="#000" stroke-width="0.2" >0</text>
<text transform="translate(541.6,191.2) rotate(180)" font-family="Liberation Sans" font-size="11.5" fill="#000" stroke="#000" stroke-width="0.4" textLength="26.3" lengthAdjust="spacingAndGlyphs" >+ 30</text>
<text transform="translate(646.8,211.8) rotate(180)" font-family="Liberation Sans" font-size="14" fill="#000" stroke="#000" stroke-width="0.2" textLength="25.8" lengthAdjust="spacingAndGlyphs" >200</text>
<text transform="translate(686,279.5) rotate(180)" font-family="Liberation Sans" font-size="13" fill="#000" stroke="#000" stroke-width="0.3" textLength="113" lengthAdjust="spacingAndGlyphs" >CAVETTO SILICONE</text>
<text transform="translate(524.5,247) rotate(199.5)" font-family="Liberation Sans" font-size="8.8" fill="#000" stroke="#000" stroke-width="0.4" textLength="25" lengthAdjust="spacingAndGlyphs" >NERO</text>
<text transform="translate(512.5,266.2) rotate(180)" font-family="Liberation Sans" font-size="8.8" fill="#000" stroke="#000" stroke-width="0.4" textLength="24" lengthAdjust="spacingAndGlyphs" >BLEU</text>
<text transform="translate(491.5,306) rotate(-19)" font-family="Liberation Sans" font-size="8.8" fill="#000" stroke="#000" stroke-width="0.4" textLength="29" lengthAdjust="spacingAndGlyphs" >ROSSO</text>
<text transform="translate(497,331.5) rotate(-34)" font-family="Liberation Sans" font-size="8.8" fill="#000" stroke="#000" stroke-width="0.4" textLength="42" lengthAdjust="spacingAndGlyphs" >MARRONE</text>
<g id="side" stroke="#000" fill="none">
<line x1="144.3" y1="547.5" x2="392" y2="547.5" stroke-width="1.1" stroke-dasharray="55 5 3 5"/>
<line x1="144.3" y1="904" x2="400" y2="904" stroke-width="1.1" stroke-dasharray="55 5 3 5"/>
<line x1="144.3" y1="548" x2="144.3" y2="904" stroke-width="1.5" />
<polygon points="144.3,547.7 146.8,558.2 141.8,558.2" fill="#999" stroke-width="1.1" />
<polygon points="144.3,903.8 141.8,893.3 146.8,893.3" fill="#999" stroke-width="1.1" />
<line x1="300.3" y1="483.8" x2="409.4" y2="483.8" stroke-width="1.5" />
<polygon points="300.3,483.8 309.3,481.3 309.3,486.3" fill="#999" stroke-width="1.1" />
<polygon points="409.4,483.8 400.4,486.3 400.4,481.3" fill="#999" stroke-width="1.1" />
<line x1="300.3" y1="480.5" x2="300.3" y2="538.5" stroke-width="1.1" />
<line x1="409.4" y1="480.5" x2="409.4" y2="538.5" stroke-width="1.1" />
<line x1="318.9" y1="534.5" x2="391" y2="534.5" stroke-width="2.6" />
<line x1="306.4" y1="537.4" x2="403.4" y2="537.4" stroke-width="2.8" />
<rect x="299.6" y="538.8" width="110.8" height="17.5" rx="0" fill="none" stroke-width="1.8" />
<line x1="300" y1="542.3" x2="410" y2="542.3" stroke-width="1.5" />
<line x1="300" y1="552.3" x2="410" y2="552.3" stroke-width="1.5" />
<line x1="306.4" y1="557.7" x2="403.4" y2="557.7" stroke-width="2.8" />
<path d="M314 559 V577.5 M396.3 559 V577.5" fill="none" stroke-width="1.8" />
<line x1="354.7" y1="533" x2="354.7" y2="559" stroke-width="1.4" />
<path d="M217 578.2 V574.5 H313.5 M396.5 574.5 H465.6 V578.2" fill="none" stroke-width="1.1" />
<line x1="217" y1="576.6" x2="244.9" y2="576.6" stroke-width="1.0" />
<line x1="278.7" y1="576.6" x2="314" y2="576.6" stroke-width="1.0" />
<line x1="396.4" y1="576.6" x2="465.6" y2="576.6" stroke-width="1.0" />
<rect x="194.8" y="578.2" width="299.6" height="14.6" rx="0" fill="none" stroke-width="1.8" />
<rect x="199.7" y="572.7" width="14.8" height="5.5" rx="0" fill="none" stroke-width="1.2" />
<rect x="202.8" y="568.3" width="9.1" height="4.4" rx="0" fill="none" stroke-width="1.2" />
<rect x="420.5" y="572.7" width="14.8" height="5.5" rx="0" fill="none" stroke-width="1.2" />
<rect x="423.6" y="568.3" width="9.1" height="4.4" rx="0" fill="none" stroke-width="1.2" />
<line x1="415.5" y1="579" x2="441" y2="579" stroke-width="2.0" />
<rect x="244.9" y="557" width="33.8" height="20.3" rx="0" fill="none" stroke-width="1.7" />
<rect x="242.3" y="549.3" width="39" height="7.7" rx="0" fill="none" stroke-width="1.7" />
<rect x="244.9" y="536.8" width="33.8" height="7.4" rx="0" fill="none" stroke-width="1.7" />
<rect x="246.5" y="544.2" width="30.5" height="5.1" rx="0" fill="none" stroke-width="1.4" />
<path d="M253 536.8 V506.5 M269.9 536.8 V506.5" fill="none" stroke-width="1.7" />
<line x1="262" y1="503" x2="262" y2="576" stroke-width="1.0" stroke-dasharray="16 3 2 3"/>
<path d="M251.8 508.5 L255.3 504.5 L258.8 508 L262.3 504.5 L265.8 508 L269.3 504.5 L272.5 508" fill="none" stroke-width="1.0" />
<path d="M254.3 535 L220.2 513.8 M254.3 523.5 L228 504.2" fill="none" stroke-width="1.7" />
<path d="M219 521 C218 516 220 513 222.8 511.5 M226 508 C226.5 505 229 503.5 232.5 504" fill="none" stroke-width="1.0" />
<line x1="200.9" y1="592.8" x2="200.9" y2="859.4" stroke-width="1.7" />
<line x1="219.6" y1="592.8" x2="219.6" y2="859.4" stroke-width="2.8" />
<line x1="330.8" y1="592.8" x2="330.8" y2="859.4" stroke-width="1.7" />
<line x1="336" y1="592.8" x2="336" y2="859.4" stroke-width="1.7" />
<line x1="344.5" y1="592.8" x2="344.5" y2="859.4" stroke-width="1.3" />
<line x1="368.2" y1="592.8" x2="368.2" y2="859.4" stroke-width="1.6" />
<line x1="371.7" y1="592.8" x2="371.7" y2="859.4" stroke-width="1.6" />
<line x1="392.5" y1="592.8" x2="392.5" y2="859.4" stroke-width="1.6" />
<line x1="412.9" y1="592.8" x2="412.9" y2="859.4" stroke-width="1.6" />
<line x1="423.5" y1="592.8" x2="423.5" y2="859.4" stroke-width="1.6" />
<line x1="433" y1="592.8" x2="433" y2="859.4" stroke-width="1.6" />
<line x1="444.5" y1="592.8" x2="444.5" y2="859.4" stroke-width="1.6" />
<line x1="447.6" y1="592.8" x2="447.6" y2="859.4" stroke-width="1.6" />
<line x1="464.2" y1="592.8" x2="464.2" y2="859.4" stroke-width="1.6" />
<line x1="483.3" y1="592.8" x2="483.3" y2="859.4" stroke-width="1.6" />
<line x1="497.2" y1="592.8" x2="497.2" y2="859.4" stroke-width="1.6" />
<line x1="512.9" y1="592.8" x2="512.9" y2="859.4" stroke-width="1.6" />
<line x1="494.4" y1="592.8" x2="513" y2="592.8" stroke-width="1.6" />
<line x1="494.4" y1="859.4" x2="513" y2="859.4" stroke-width="1.6" />
<line x1="206.8" y1="584" x2="206.8" y2="868" stroke-width="1.1" stroke-dasharray="42 5 3 5"/>
<line x1="427.9" y1="560" x2="427.9" y2="884" stroke-width="1.1" stroke-dasharray="42 5 3 5"/>
<line x1="354.7" y1="517" x2="354.7" y2="519" stroke-width="1.5" />
<line x1="354.7" y1="529" x2="354.7" y2="1027" stroke-width="1.1" stroke-dasharray="42 5 3 5"/>
<line x1="219.9" y1="643.2" x2="330.8" y2="643.2" stroke-width="1.7" />
<rect x="223.6" y="600.3" width="49.4" height="6.7" rx="0" fill="#000" stroke-width="0" />
<polygon points="272.4,597.8 282.3,603.6 272.4,609.2" fill="#000" stroke-width="0" />
<rect x="195.3" y="859.4" width="299.4" height="14.1" rx="0" fill="none" stroke-width="1.8" />
<rect x="198.9" y="873.5" width="8.3" height="6.1" rx="2.5" fill="none" stroke-width="1.2" />
<rect x="207.2" y="873.5" width="8.3" height="6.1" rx="2.5" fill="none" stroke-width="1.2" />
<rect x="421.3" y="873.5" width="7.6" height="6.1" rx="2.5" fill="none" stroke-width="1.2" />
<rect x="428.9" y="873.5" width="7.6" height="6.1" rx="2.5" fill="none" stroke-width="1.2" />
<path d="M217.4 873.5 V877.4 H313.5 M396.3 877.4 H465.6 V873.5" fill="none" stroke-width="1.1" />
<line x1="217.4" y1="875.3" x2="313.5" y2="875.3" stroke-width="1.0" />
<line x1="396.3" y1="875.3" x2="421" y2="875.3" stroke-width="1.0" />
<line x1="437" y1="875.3" x2="465.6" y2="875.3" stroke-width="1.0" />
<path d="M314 874.3 V893 M396.2 874.3 V893" fill="none" stroke-width="1.8" />
<line x1="306.4" y1="895" x2="403.4" y2="895" stroke-width="2.8" />
<rect x="299.6" y="896.4" width="110.8" height="17.4" rx="0" fill="none" stroke-width="1.8" />
<line x1="300" y1="899.6" x2="410" y2="899.6" stroke-width="1.5" />
<line x1="300" y1="910.2" x2="410" y2="910.2" stroke-width="1.5" />
<line x1="306.4" y1="914.9" x2="403.4" y2="914.9" stroke-width="2.4" />
<line x1="318.9" y1="917.3" x2="391" y2="917.3" stroke-width="2.2" />
<line x1="354.7" y1="893" x2="354.7" y2="918" stroke-width="1.4" />
<path d="M340.3 918.5 V932.8 H342.4 V1017.5 Q342.4 1020.4 345.2 1020.4 H368 Q370.8 1020.4 370.8 1017.5 V918.5" fill="none" stroke-width="1.8" />
<line x1="282.6" y1="932.3" x2="339.5" y2="932.3" stroke-width="1.5" />
<line x1="283.2" y1="932.3" x2="283.2" y2="1022.4" stroke-width="1.5" />
<polygon points="283.2,932.5 285.7,943 280.7,943" fill="#999" stroke-width="1.1" />
<polygon points="283.2,1022.2 280.7,1011.7 285.7,1011.7" fill="#999" stroke-width="1.1" />
<line x1="332" y1="971.1" x2="385.2" y2="971.1" stroke-width="1.1" stroke-dasharray="13 5 9 5 13 20"/>
<line x1="392.5" y1="533.3" x2="698.1" y2="533.3" stroke-width="1.5" />
<line x1="497" y1="577.7" x2="608" y2="577.7" stroke-width="1.5" />
<line x1="515" y1="592.8" x2="559.5" y2="592.8" stroke-width="1.5" />
<line x1="515" y1="859.4" x2="559.5" y2="859.4" stroke-width="1.5" />
<line x1="497" y1="873.9" x2="608" y2="873.9" stroke-width="1.5" />
<line x1="393.5" y1="917.9" x2="653.5" y2="917.9" stroke-width="1.5" />
<line x1="282.6" y1="1022.4" x2="698.5" y2="1022.4" stroke-width="1.5" />
<line x1="557.5" y1="592.8" x2="557.5" y2="859.4" stroke-width="1.5" />
<polygon points="557.5,593 560,603.5 555,603.5" fill="#999" stroke-width="1.1" />
<polygon points="557.5,859.2 555,848.7 560,848.7" fill="#999" stroke-width="1.1" />
<line x1="557.5" y1="541.6" x2="557.5" y2="577.7" stroke-width="1.5" />
<polygon points="557.5,577.5 555,567 560,567" fill="#999" stroke-width="1.1" />
<line x1="557.5" y1="873.9" x2="557.5" y2="910.5" stroke-width="1.5" />
<polygon points="557.5,874.1 560,884.6 555,884.6" fill="#999" stroke-width="1.1" />
<line x1="606.6" y1="533.3" x2="606.6" y2="917.9" stroke-width="1.5" />
<polygon points="606.6,533.5 609.1,544 604.1,544" fill="#999" stroke-width="1.1" />
<polygon points="606.6,577.5 604.1,567 609.1,567" fill="#999" stroke-width="1.1" />
<polygon points="606.6,577.9 609.1,588.4 604.1,588.4" fill="#999" stroke-width="1.1" />
<polygon points="606.6,873.7 604.1,863.2 609.1,863.2" fill="#999" stroke-width="1.1" />
<polygon points="606.6,874.1 609.1,884.6 604.1,884.6" fill="#999" stroke-width="1.1" />
<polygon points="606.6,917.7 604.1,907.2 609.1,907.2" fill="#999" stroke-width="1.1" />
<line x1="651.8" y1="533.3" x2="651.8" y2="1022.4" stroke-width="1.5" />
<polygon points="651.8,533.5 654.3,544 649.3,544" fill="#999" stroke-width="1.1" />
<polygon points="651.8,917.7 649.3,907.2 654.3,907.2" fill="#999" stroke-width="1.1" />
<polygon points="651.8,918.1 654.3,928.6 649.3,928.6" fill="#999" stroke-width="1.1" />
<polygon points="651.8,1022.2 649.3,1011.7 654.3,1011.7" fill="#999" stroke-width="1.1" />
<line x1="696.7" y1="533.3" x2="696.7" y2="1022.4" stroke-width="1.5" />
<polygon points="696.7,533.5 699.2,544 694.2,544" fill="#999" stroke-width="1.1" />
<polygon points="696.7,1022.2 694.2,1011.7 699.2,1011.7" fill="#999" stroke-width="1.1" />
<clipPath id="dclip"><path d="M130.7 958 A15.6 15.6 0 1 1 130.7 984 Z"/></clipPath>
<g clip-path="url(#dclip)">
<line x1="69.6" y1="950" x2="109.6" y2="990" stroke-width="1.4" />
<line x1="73.8" y1="950" x2="113.8" y2="990" stroke-width="1.4" />
<line x1="78" y1="950" x2="118" y2="990" stroke-width="1.4" />
<line x1="82.2" y1="950" x2="122.2" y2="990" stroke-width="1.4" />
<line x1="86.4" y1="950" x2="126.4" y2="990" stroke-width="1.4" />
<line x1="90.6" y1="950" x2="130.6" y2="990" stroke-width="1.4" />
<line x1="94.8" y1="950" x2="134.8" y2="990" stroke-width="1.4" />
<line x1="99" y1="950" x2="139" y2="990" stroke-width="1.4" />
<line x1="103.2" y1="950" x2="143.2" y2="990" stroke-width="1.4" />
<line x1="107.4" y1="950" x2="147.4" y2="990" stroke-width="1.4" />
<line x1="111.6" y1="950" x2="151.6" y2="990" stroke-width="1.4" />
<line x1="115.8" y1="950" x2="155.8" y2="990" stroke-width="1.4" />
<line x1="120" y1="950" x2="160" y2="990" stroke-width="1.4" />
<line x1="124.2" y1="950" x2="164.2" y2="990" stroke-width="1.4" />
<line x1="128.4" y1="950" x2="168.4" y2="990" stroke-width="1.4" />
<line x1="132.6" y1="950" x2="172.6" y2="990" stroke-width="1.4" />
<line x1="136.8" y1="950" x2="176.8" y2="990" stroke-width="1.4" />
<line x1="141" y1="950" x2="181" y2="990" stroke-width="1.4" />
<line x1="145.2" y1="950" x2="185.2" y2="990" stroke-width="1.4" />
<line x1="149.4" y1="950" x2="189.4" y2="990" stroke-width="1.4" />
<line x1="153.6" y1="950" x2="193.6" y2="990" stroke-width="1.4" />
<line x1="157.8" y1="950" x2="197.8" y2="990" stroke-width="1.4" />
<line x1="162" y1="950" x2="202" y2="990" stroke-width="1.4" />
<line x1="166.2" y1="950" x2="206.2" y2="990" stroke-width="1.4" />
<line x1="170.4" y1="950" x2="210.4" y2="990" stroke-width="1.4" />
<line x1="174.6" y1="950" x2="214.6" y2="990" stroke-width="1.4" />
</g>
<path d="M130.7 961.2 A15.6 15.6 0 1 1 130.7 980.8 Z" fill="none" stroke-width="1.6" />
<line x1="116.8" y1="971" x2="129.5" y2="971" stroke-width="1.1" />
<line x1="159.5" y1="971" x2="179.2" y2="971" stroke-width="1.1" />
<line x1="143.3" y1="944.8" x2="143.3" y2="947.2" stroke-width="1.1" />
<line x1="143.3" y1="988" x2="143.3" y2="991" stroke-width="1.1" />
<line x1="92.6" y1="955.6" x2="146" y2="955.6" stroke-width="1.3" />
<line x1="92.6" y1="986.6" x2="146" y2="986.6" stroke-width="1.3" />
<line x1="93.3" y1="955.6" x2="93.3" y2="986.6" stroke-width="1.5" />
<polygon points="93.3,955.8 95.55,964.8 91.05,964.8" fill="#000" stroke-width="1.1" />
<polygon points="93.3,986.4 91.05,977.4 95.55,977.4" fill="#999" stroke-width="1.1" />
<line x1="130.7" y1="980.8" x2="130.7" y2="1027.5" stroke-width="1.4" />
<line x1="158.7" y1="979.6" x2="158.7" y2="1027.5" stroke-width="1.5" />
<line x1="130.7" y1="1026.8" x2="158.7" y2="1026.8" stroke-width="1.5" />
<polygon points="130.9,1026.8 139.9,1024.55 139.9,1029.05" fill="#000" stroke-width="1.1" />
<polygon points="158.5,1026.8 149.5,1029.05 149.5,1024.55" fill="#000" stroke-width="1.1" />
</g>
<text transform="translate(141.3,741.6) rotate(-90)" font-family="Liberation Sans" font-size="17.5" fill="#000" stroke="none" textLength="31.5" lengthAdjust="spacingAndGlyphs" >200</text>
<text transform="translate(138,703.4) rotate(-90)" font-family="Liberation Mono" font-size="11" fill="#000" stroke="#000" stroke-width="0.25" textLength="21" lengthAdjust="spacingAndGlyphs" >- 1</text>
<text transform="translate(123.8,700.6) rotate(-90)" font-family="Liberation Mono" font-size="9.5" fill="#000" stroke="#000" stroke-width="0.25" textLength="18" lengthAdjust="spacingAndGlyphs" >+ 1</text>
<text transform="translate(379.5,489.4) rotate(180)" font-family="Liberation Sans" font-size="16.5" fill="#000" stroke="none" textLength="50.5" lengthAdjust="spacingAndGlyphs" >ø60.5</text>
<text transform="translate(552.3,571.3) rotate(-90)" font-family="Liberation Sans" font-size="17.5" fill="#000" stroke="none" textLength="30.5" lengthAdjust="spacingAndGlyphs" >8.5</text>
<text transform="translate(600.8,578.2) rotate(-90)" font-family="Liberation Sans" font-size="17.5" fill="#000" stroke="none" textLength="43" lengthAdjust="spacingAndGlyphs" >24.6</text>
<text transform="translate(552.3,906.5) rotate(-90)" font-family="Liberation Sans" font-size="17.5" fill="#000" stroke="none" textLength="30.5" lengthAdjust="spacingAndGlyphs" >8.5</text>
<text transform="translate(600.8,917) rotate(-90)" font-family="Liberation Sans" font-size="17.5" fill="#000" stroke="none" textLength="43" lengthAdjust="spacingAndGlyphs" >24.6</text>
<text transform="translate(552.3,741.5) rotate(-90)" font-family="Liberation Sans" font-size="17.5" fill="#000" stroke="none" textLength="32" lengthAdjust="spacingAndGlyphs" >149</text>
<text transform="translate(552,703) rotate(-90)" font-family="Liberation Mono" font-size="11" fill="#000" stroke="#000" stroke-width="0.25" textLength="20" lengthAdjust="spacingAndGlyphs" >- 1</text>
<text transform="translate(538.5,700.5) rotate(-90)" font-family="Liberation Mono" font-size="9.5" fill="#000" stroke="#000" stroke-width="0.25" textLength="17" lengthAdjust="spacingAndGlyphs" >+ 1</text>
<text transform="translate(601.5,742) rotate(-90)" font-family="Liberation Sans" font-size="17.5" fill="#000" stroke="none" textLength="32" lengthAdjust="spacingAndGlyphs" >166</text>
<text transform="translate(601.5,708) rotate(-90)" font-family="Liberation Mono" font-size="11" fill="#000" stroke="#000" stroke-width="0.25" textLength="20" lengthAdjust="spacingAndGlyphs" >- 1</text>
<text transform="translate(588,704.5) rotate(-90)" font-family="Liberation Mono" font-size="9.5" fill="#000" stroke="#000" stroke-width="0.25" textLength="17" lengthAdjust="spacingAndGlyphs" >+ 1</text>
<text transform="translate(648,752.5) rotate(-90)" font-family="Liberation Sans" font-size="17.5" fill="#000" stroke="none" textLength="55" lengthAdjust="spacingAndGlyphs" >215.2</text>
<text transform="translate(648,697) rotate(-90)" font-family="Liberation Mono" font-size="11" fill="#000" stroke="#000" stroke-width="0.25" textLength="20" lengthAdjust="spacingAndGlyphs" >- 1</text>
<text transform="translate(634,694) rotate(-90)" font-family="Liberation Mono" font-size="9.5" fill="#000" stroke="#000" stroke-width="0.25" textLength="17" lengthAdjust="spacingAndGlyphs" >+ 1</text>
<text transform="translate(691.5,804.5) rotate(-90)" font-family="Liberation Sans" font-size="17.5" fill="#000" stroke="none" textLength="55" lengthAdjust="spacingAndGlyphs" >273.6</text>
<text transform="translate(691.5,748.5) rotate(-90)" font-family="Liberation Mono" font-size="11" fill="#000" stroke="#000" stroke-width="0.25" textLength="20" lengthAdjust="spacingAndGlyphs" >- 2</text>
<text transform="translate(678,745.5) rotate(-90)" font-family="Liberation Mono" font-size="9.5" fill="#000" stroke="#000" stroke-width="0.25" textLength="17" lengthAdjust="spacingAndGlyphs" >+ 2</text>
<text transform="translate(648,991.5) rotate(-90)" font-family="Liberation Sans" font-size="17.5" fill="#000" stroke="none" textLength="45" lengthAdjust="spacingAndGlyphs" >58.4</text>
<text transform="translate(648,946) rotate(-90)" font-family="Liberation Mono" font-size="11" fill="#000" stroke="#000" stroke-width="0.25" textLength="19" lengthAdjust="spacingAndGlyphs" >- 1</text>
<text transform="translate(634,943) rotate(-90)" font-family="Liberation Mono" font-size="9.5" fill="#000" stroke="#000" stroke-width="0.25" textLength="16" lengthAdjust="spacingAndGlyphs" >+ 1</text>
<text transform="translate(278.6,988) rotate(-90)" font-family="Liberation Sans" font-size="17.5" fill="#000" stroke="none" textLength="20" lengthAdjust="spacingAndGlyphs" >50</text>
<text transform="translate(297,997.5) rotate(-90)" font-family="Liberation Mono" font-size="14" fill="#000" stroke="#000" stroke-width="0.3" textLength="43" lengthAdjust="spacingAndGlyphs" >piano</text>
<text transform="translate(87.3,985.5) rotate(-90)" font-family="Liberation Sans" font-size="15.5" fill="#000" stroke="#000" stroke-width="0.5" textLength="30" lengthAdjust="spacingAndGlyphs" >ø17</text>
<text transform="translate(78.7,949) rotate(-90)" font-family="Liberation Sans" font-size="9.5" fill="#000" stroke="none" font-weight="bold" textLength="13" lengthAdjust="spacingAndGlyphs" >h8</text>
<text transform="translate(164,1032.3) rotate(180)" font-family="Liberation Sans" font-size="16" fill="#000" stroke="#000" stroke-width="0.35" textLength="40.5" lengthAdjust="spacingAndGlyphs" >15.5</text>
<text transform="translate(119,1033.5) rotate(180)" font-family="Liberation Sans" font-size="11.5" fill="#000" stroke="#000" stroke-width="0.35" textLength="32.5" lengthAdjust="spacingAndGlyphs" xml:space="preserve">- 0.1</text>
<text transform="translate(119.6,1049.8) rotate(180)" font-family="Liberation Sans" font-size="11.5" fill="#000" stroke="#000" stroke-width="0.35" textLength="33.5" lengthAdjust="spacingAndGlyphs" xml:space="preserve">+ 0.1</text>
<g id="endview" stroke="#000" fill="none">
<polyline points="226.8,1397 217.4,1409.4 331.8,1491.6 335.3,1489 344.3,1478.1" fill="none" stroke-width="1.7" />
<line x1="219.6" y1="1406.2" x2="334" y2="1488.3" stroke-width="1.4" />
<polygon points="316.2,1182.2 339.1,1180.2 341.4,1201 320.6,1204" fill="#fff" stroke-width="1.7" />
<polygon points="399.3,1186 419.2,1194.2 412.8,1210 392.5,1202" fill="#fff" stroke-width="1.7" />
<polygon points="491.2,1302.9 510.1,1299.8 512.6,1319.5 493.9,1323.7" fill="#fff" stroke-width="1.7" />
<polygon points="437.8,1452.1 453.4,1438.6 464.8,1451.4 448.2,1465" fill="#fff" stroke-width="1.7" />
<polygon points="368.2,1477 390,1473.9 393.2,1491.6 371.3,1495.3" fill="#fff" stroke-width="1.7" />
<polygon points="197.7,1354.3 217.4,1351.2 219.5,1372 201.8,1375.7" fill="#fff" stroke-width="1.7" />
<polyline points="241.3,1254.6 225.14,1245.03 224.26,1246.37 239.3,1257.6" fill="#fff" stroke-width="1.5" stroke-linejoin="round"/>
<polyline points="229.62,1276.25 211.52,1269.47 210.88,1270.93 228.18,1279.55" fill="#fff" stroke-width="1.5" stroke-linejoin="round"/>
<polyline points="219.93,1298.45 200.99,1294.82 200.61,1296.38 219.07,1301.95" fill="#fff" stroke-width="1.5" stroke-linejoin="round"/>
<polyline points="368.19,1199.18 369.1,1180.58 367.5,1180.42 364.61,1198.82" fill="#fff" stroke-width="1.5" stroke-linejoin="round"/>
<polyline points="438.52,1222.47 446.77,1207.63 445.43,1206.77 435.48,1220.53" fill="#fff" stroke-width="1.5" stroke-linejoin="round"/>
<polyline points="454.56,1237.68 467.42,1225.51 466.38,1224.29 452.24,1234.92" fill="#fff" stroke-width="1.5" stroke-linejoin="round"/>
<polyline points="469.93,1257.64 485.01,1247.39 484.19,1246.01 468.07,1254.56" fill="#fff" stroke-width="1.5" stroke-linejoin="round"/>
<polyline points="482.04,1278.58 499.38,1270.95 498.82,1269.45 480.76,1275.22" fill="#fff" stroke-width="1.5" stroke-linejoin="round"/>
<polyline points="480.64,1397.53 498.76,1404.92 499.44,1403.48 482.16,1394.27" fill="#fff" stroke-width="1.5" stroke-linejoin="round"/>
<polyline points="468,1419.3 484.16,1428.87 485.04,1427.53 470,1416.3" fill="#fff" stroke-width="1.5" stroke-linejoin="round"/>
<polyline points="411.95,1467.42 421.51,1481.61 422.89,1480.79 415.05,1465.58" fill="#fff" stroke-width="1.5" stroke-linejoin="round"/>
<polygon points="197,1321.2 214.5,1322 214.5,1325 197.5,1324.6" fill="#fff" stroke-width="1.0" />
<circle cx="355.3" cy="1337.2" r="138" fill="#fff" stroke-width="3.3" />
<line x1="302.06" y1="1328.2" x2="216.3" y2="1328.2" stroke-width="1.8" />
<line x1="302.06" y1="1346.2" x2="216.3" y2="1346.2" stroke-width="1.8" />
<line x1="389.72" y1="1295.59" x2="432.59" y2="1221.32" stroke-width="1.8" />
<line x1="374.13" y1="1286.59" x2="417.01" y2="1212.32" stroke-width="1.8" />
<line x1="374.13" y1="1387.81" x2="417.01" y2="1462.08" stroke-width="1.8" />
<line x1="389.72" y1="1378.81" x2="432.59" y2="1453.08" stroke-width="1.8" />
<circle cx="207.8" cy="1337.2" r="11.2" fill="#fff" stroke-width="1.8" />
<circle cx="207.8" cy="1337.2" r="7.6" fill="none" stroke-width="1.2" />
<polygon points="212.8,1337.2 210.3,1341.53 205.3,1341.53 202.8,1337.2 205.3,1332.87 210.3,1332.87" fill="none" stroke-width="1.0" />
<circle cx="207.8" cy="1337.2" r="2.3" fill="none" stroke-width="0.9" />
<circle cx="428.6" cy="1210.24" r="11.2" fill="#fff" stroke-width="1.8" />
<circle cx="428.6" cy="1210.24" r="7.6" fill="none" stroke-width="1.2" />
<polygon points="433.6,1210.24 431.1,1214.57 426.1,1214.57 423.6,1210.24 426.1,1205.91 431.1,1205.91" fill="none" stroke-width="1.0" />
<circle cx="428.6" cy="1210.24" r="2.3" fill="none" stroke-width="0.9" />
<circle cx="429.1" cy="1465.03" r="11.2" fill="#fff" stroke-width="1.8" />
<circle cx="429.1" cy="1465.03" r="7.6" fill="none" stroke-width="1.2" />
<polygon points="434.1,1465.03 431.6,1469.36 426.6,1469.36 424.1,1465.03 426.6,1460.7 431.6,1460.7" fill="none" stroke-width="1.0" />
<circle cx="429.1" cy="1465.03" r="2.3" fill="none" stroke-width="0.9" />
<circle cx="355.3" cy="1337.2" r="54.5" fill="none" stroke-width="1.9" />
<circle cx="355.3" cy="1337.2" r="42" fill="none" stroke-width="1.9" />
<circle cx="355.3" cy="1337.2" r="29" fill="none" stroke-width="3.2" />
<path d="M377.22 1267.36 A73.2 73.2 0 0 0 333.38 1267.36 Q330.16 1268.45 331.86 1271.4 L334.87 1276.62 Q336.57 1279.57 339.84 1278.61 A60.6 60.6 0 0 1 370.76 1278.61 Q374.03 1279.57 375.73 1276.62 L378.74 1271.4 Q380.44 1268.45 377.22 1267.36 Z" fill="none" stroke-width="1.9" />
<path d="M387.8 1249 A94 94 0 0 0 322.8 1249 Q319.64 1250.23 321.34 1253.17 L324.3 1258.31 Q326 1261.26 329.2 1260.1 A81.4 81.4 0 0 1 381.4 1260.1 Q384.6 1261.26 386.3 1258.31 L389.26 1253.17 Q390.96 1250.23 387.8 1249 Z" fill="none" stroke-width="1.9" />
<path d="M398.81 1229.89 A115.8 115.8 0 0 0 311.79 1229.89 Q308.66 1231.21 310.36 1234.15 L313.55 1239.69 Q315.25 1242.63 318.4 1241.36 A102.7 102.7 0 0 1 392.2 1241.36 Q395.35 1242.63 397.05 1239.69 L400.24 1234.15 Q401.94 1231.21 398.81 1229.89 Z" fill="none" stroke-width="1.9" />
<path d="M305.78 1283.29 A73.2 73.2 0 0 0 283.86 1321.27 Q283.19 1324.6 286.59 1324.6 L292.62 1324.6 Q296.02 1324.6 296.82 1321.3 A60.6 60.6 0 0 1 312.29 1294.51 Q314.75 1292.17 313.05 1289.22 L310.03 1284 Q308.33 1281.05 305.78 1283.29 Z" fill="none" stroke-width="1.9" />
<path d="M295.16 1264.96 A94 94 0 0 0 262.66 1321.24 Q262.15 1324.6 265.55 1324.6 L271.48 1324.6 Q274.88 1324.6 275.48 1321.25 A81.4 81.4 0 0 1 301.58 1276.05 Q304.18 1273.86 302.48 1270.91 L299.51 1265.77 Q297.81 1262.83 295.16 1264.96 Z" fill="none" stroke-width="1.9" />
<path d="M284.12 1245.86 A115.8 115.8 0 0 0 240.61 1321.23 Q240.19 1324.6 243.59 1324.6 L249.98 1324.6 Q253.38 1324.6 253.85 1321.23 A102.7 102.7 0 0 1 290.75 1257.32 Q293.43 1255.23 291.73 1252.29 L288.53 1246.75 Q286.83 1243.81 284.12 1245.86 Z" fill="none" stroke-width="1.9" />
<path d="M404.82 1391.11 A73.2 73.2 0 0 0 426.74 1353.13 Q427.41 1349.8 424.01 1349.8 L417.98 1349.8 Q414.58 1349.8 413.78 1353.1 A60.6 60.6 0 0 1 398.31 1379.89 Q395.85 1382.23 397.55 1385.18 L400.57 1390.4 Q402.27 1393.35 404.82 1391.11 Z" fill="none" stroke-width="1.9" />
<path d="M415.44 1409.44 A94 94 0 0 0 447.94 1353.16 Q448.45 1349.8 445.05 1349.8 L439.12 1349.8 Q435.72 1349.8 435.12 1353.15 A81.4 81.4 0 0 1 409.02 1398.35 Q406.42 1400.54 408.12 1403.49 L411.09 1408.63 Q412.79 1411.57 415.44 1409.44 Z" fill="none" stroke-width="1.9" />
<path d="M426.48 1428.54 A115.8 115.8 0 0 0 469.99 1353.17 Q470.41 1349.8 467.01 1349.8 L460.62 1349.8 Q457.22 1349.8 456.75 1353.17 A102.7 102.7 0 0 1 419.85 1417.08 Q417.17 1419.17 418.87 1422.11 L422.07 1427.65 Q423.77 1430.59 426.48 1428.54 Z" fill="none" stroke-width="1.9" />
<path d="M426.74 1321.27 A73.2 73.2 0 0 0 404.82 1283.29 Q402.27 1281.05 400.57 1284 L397.55 1289.22 Q395.85 1292.17 398.31 1294.51 A60.6 60.6 0 0 1 413.78 1321.3 Q414.58 1324.6 417.98 1324.6 L424.01 1324.6 Q427.41 1324.6 426.74 1321.27 Z" fill="none" stroke-width="1.9" />
<path d="M447.94 1321.24 A94 94 0 0 0 415.44 1264.96 Q412.79 1262.83 411.09 1265.77 L408.12 1270.91 Q406.42 1273.86 409.02 1276.05 A81.4 81.4 0 0 1 435.12 1321.25 Q435.72 1324.6 439.12 1324.6 L445.05 1324.6 Q448.45 1324.6 447.94 1321.24 Z" fill="none" stroke-width="1.9" />
<path d="M469.99 1321.23 A115.8 115.8 0 0 0 426.48 1245.86 Q423.77 1243.81 422.07 1246.75 L418.87 1252.29 Q417.17 1255.23 419.85 1257.32 A102.7 102.7 0 0 1 456.75 1321.23 Q457.22 1324.6 460.62 1324.6 L467.01 1324.6 Q470.41 1324.6 469.99 1321.23 Z" fill="none" stroke-width="1.9" />
<path d="M283.86 1353.13 A73.2 73.2 0 0 0 305.78 1391.11 Q308.33 1393.35 310.03 1390.4 L313.05 1385.18 Q314.75 1382.23 312.29 1379.89 A60.6 60.6 0 0 1 296.82 1353.1 Q296.02 1349.8 292.62 1349.8 L286.59 1349.8 Q283.19 1349.8 283.86 1353.13 Z" fill="none" stroke-width="1.9" />
<path d="M262.66 1353.16 A94 94 0 0 0 295.16 1409.44 Q297.81 1411.57 299.51 1408.63 L302.48 1403.49 Q304.18 1400.54 301.58 1398.35 A81.4 81.4 0 0 1 275.48 1353.15 Q274.88 1349.8 271.48 1349.8 L265.55 1349.8 Q262.15 1349.8 262.66 1353.16 Z" fill="none" stroke-width="1.9" />
<path d="M253.26 1348.83 A102.7 102.7 0 0 0 258.79 1372.33 M240.13 1349.3 A115.8 115.8 0 0 0 246.48 1376.81" fill="none" stroke-width="1.9" />
<line x1="253.26" y1="1348.83" x2="240.13" y2="1349.3" stroke-width="1.9" />
<path d="M333.38 1407.04 A73.2 73.2 0 0 0 377.22 1407.04 Q380.44 1405.95 378.74 1403 L375.73 1397.78 Q374.03 1394.83 370.76 1395.79 A60.6 60.6 0 0 1 339.84 1395.79 Q336.57 1394.83 334.87 1397.78 L331.86 1403 Q330.16 1405.95 333.38 1407.04 Z" fill="none" stroke-width="1.9" />
<path d="M322.8 1425.4 A94 94 0 0 0 387.8 1425.4 Q390.96 1424.17 389.26 1421.23 L386.3 1416.09 Q384.6 1413.14 381.4 1414.3 A81.4 81.4 0 0 1 329.2 1414.3 Q326 1413.14 324.3 1416.09 L321.34 1421.23 Q319.64 1424.17 322.8 1425.4 Z" fill="none" stroke-width="1.9" />
<path d="M262.72 1382.35 A103 103 0 0 0 418.71 1418.37" fill="none" stroke-width="1.8" />
<path d="M258.18 1400.27 A115.8 115.8 0 0 0 423.37 1430.88" fill="none" stroke-width="1.8" />
<line x1="291.89" y1="1418.37" x2="284.01" y2="1428.45" stroke-width="1.7" />
<line x1="315.05" y1="1432.01" x2="310.05" y2="1443.79" stroke-width="1.7" />
<path d="M240.2 1390.87 A127 127 0 0 0 337.63 1462.96" fill="none" stroke-width="1.6" />
<path d="M410.7 1334.7 H401.4 V1340.3 H410.7" fill="none" stroke-width="1.2" />
<line x1="188" y1="1337.2" x2="505.3" y2="1337.2" stroke-width="1.6" stroke-dasharray="16 3.5 2.5 3.5"/>
<line x1="355.3" y1="1183.3" x2="355.3" y2="1492" stroke-width="1.6" stroke-dasharray="16 3.5 2.5 3.5"/>
<line x1="386.3" y1="1283.51" x2="422.3" y2="1221.15" stroke-width="1.5" stroke-dasharray="16 3.5 2.5 3.5"/>
<line x1="386.3" y1="1390.89" x2="422.3" y2="1453.25" stroke-width="1.5" stroke-dasharray="16 3.5 2.5 3.5"/>
<polygon points="281.7,1303.9 271.95,1320.79 252.45,1320.79 242.7,1303.9 252.45,1287.01 271.95,1287.01" fill="#fff" stroke-width="1.6" stroke-linejoin="round"/>
<polygon points="252.45,1320.79 242.7,1303.9 252.45,1287.01 254.7,1290.91 247.2,1303.9 254.7,1316.89" fill="#000" stroke-width="0.5" />
<circle cx="262.2" cy="1303.9" r="13.4" fill="#fff" stroke-width="2.0" />
<circle cx="262.2" cy="1303.9" r="7" fill="none" stroke-width="1.3" />
<path d="M260.89 1298.22 L227.6 1287.4 L224.51 1296.91 L257.8 1307.73 A5 5 0 0 1 260.89 1298.22 Z" fill="#fff" stroke-width="1.4"/>
<line x1="251.74" y1="1300.5" x2="236.52" y2="1295.56" stroke-width="1.0" />
<line x1="228.38" y1="1285.02" x2="223.74" y2="1299.29" stroke-width="1.2" />
<polygon points="281.7,1371 271.95,1387.89 252.45,1387.89 242.7,1371 252.45,1354.11 271.95,1354.11" fill="#fff" stroke-width="1.6" stroke-linejoin="round"/>
<polygon points="252.45,1387.89 242.7,1371 252.45,1354.11 254.7,1358.01 247.2,1371 254.7,1383.99" fill="#000" stroke-width="0.5" />
<circle cx="262.2" cy="1371" r="13.4" fill="#fff" stroke-width="2.0" />
<circle cx="262.2" cy="1371" r="7" fill="none" stroke-width="1.3" />
<path d="M257.8 1367.17 L224.51 1377.99 L227.6 1387.5 L260.89 1376.68 A5 5 0 0 1 257.8 1367.17 Z" fill="#fff" stroke-width="1.4"/>
<line x1="251.74" y1="1374.4" x2="236.52" y2="1379.34" stroke-width="1.0" />
<line x1="223.74" y1="1375.61" x2="228.38" y2="1389.88" stroke-width="1.2" />
<line x1="153" y1="1160.9" x2="153" y2="1298.5" stroke-width="1.6" />
<line x1="153" y1="1160.9" x2="257" y2="1288" stroke-width="1.6" />
<line x1="154.4" y1="1374.8" x2="154.4" y2="1499.5" stroke-width="1.6" />
<line x1="154.4" y1="1499.5" x2="260.5" y2="1395.5" stroke-width="1.6" />
<polygon points="261.8,1394.3 256.41,1403.09 252.91,1399.52" fill="#000" stroke-width="1.0" />
<rect x="84" y="1240.3" width="9.7" height="183.7" rx="0" fill="#000" stroke-width="0" />
<polygon points="78,1421.6 99,1421.6 88.5,1439.8" fill="#000" stroke-width="0" />
<line x1="394.5" y1="1178" x2="629.7" y2="1178" stroke-width="1.5" />
<line x1="395.3" y1="1496.6" x2="629.7" y2="1496.6" stroke-width="1.5" />
<line x1="627.8" y1="1178" x2="627.8" y2="1496.6" stroke-width="1.5" />
<polygon points="627.8,1178.2 630.3,1188.7 625.3,1188.7" fill="#999" stroke-width="1.0" />
<polygon points="627.8,1496.4 625.3,1485.9 630.3,1485.9" fill="#999" stroke-width="1.0" />
<line x1="341" y1="1179.2" x2="549.7" y2="1143.6" stroke-width="1.5" />
<line x1="395.1" y1="1491" x2="603.8" y2="1452.4" stroke-width="1.5" />
<line x1="549.7" y1="1143.6" x2="603.8" y2="1452.4" stroke-width="1.5" />
<polygon points="549.75,1143.9 554.02,1153.81 549.1,1154.67" fill="#999" stroke-width="1.0" />
<polygon points="603.75,1452.1 599.48,1442.19 604.4,1441.33" fill="#999" stroke-width="1.0" />
<line x1="510.1" y1="1299.8" x2="537" y2="1294.6" stroke-width="1.4" />
<line x1="512.6" y1="1319.5" x2="543.5" y2="1314.2" stroke-width="1.4" />
<line x1="531.3" y1="1262.3" x2="544.9" y2="1333" stroke-width="1.4" />
<polygon points="536.9,1294.3 533.13,1285.82 537.56,1285.05" fill="#999" stroke-width="1.0" />
<polygon points="540.8,1314.8 544.57,1323.28 540.14,1324.05" fill="#999" stroke-width="1.0" />
</g>
<text transform="translate(81.5,1387) rotate(-90)" font-family="Liberation Mono" font-size="23" fill="#000" stroke="none" textLength="111" lengthAdjust="spacingAndGlyphs" >ROTAZIONE</text>
<text transform="translate(149,1289.2) rotate(-90)" font-family="Liberation Mono" font-size="15.5" fill="#000" stroke="none" font-weight="bold" textLength="76.3" lengthAdjust="spacingAndGlyphs" >Pressacavo</text>
<text transform="translate(150.2,1503) rotate(-90)" font-family="Liberation Mono" font-size="15.5" fill="#000" stroke="none" font-weight="bold" textLength="76.3" lengthAdjust="spacingAndGlyphs" >Pressacavo</text>
<text transform="translate(623.8,1356.4) rotate(-90)" font-family="Liberation Sans" font-size="17.5" fill="#000" stroke="none" textLength="40" lengthAdjust="spacingAndGlyphs" >ø178</text>
<text transform="translate(573,1314.6) rotate(-80)" font-family="Liberation Sans" font-size="17.5" fill="#000" stroke="none" textLength="29" lengthAdjust="spacingAndGlyphs" >177</text>
<text transform="translate(528.2,1284.4) rotate(-80)" font-family="Liberation Sans" font-size="17.5" fill="#000" stroke="none" textLength="19" lengthAdjust="spacingAndGlyphs" >12</text>
<text transform="translate(682.8,1550) rotate(-90)" font-family="Liberation Sans" font-size="18.3" fill="#000" stroke="#000" stroke-width="0.3" textLength="44.7" lengthAdjust="spacingAndGlyphs" >NOTE:</text>
<text transform="translate(705,1502) rotate(-90)" font-family="Liberation Mono" font-size="19.5" fill="#000" stroke="#000" stroke-width="0.35" textLength="352.6" lengthAdjust="spacingAndGlyphs" >Montare anelli in gomma cod.300021.01</text>
<text transform="translate(727.9,1502.4) rotate(-90)" font-family="Liberation Mono" font-size="19.5" fill="#000" stroke="#000" stroke-width="0.35" textLength="266.8" lengthAdjust="spacingAndGlyphs" >Terra collegata internamente</text>
<g id="wm" opacity="0.34">
<g transform="translate(192.8,864.6) rotate(-18.2) skewX(-7) scale(1.5,1)"><text font-family="Liberation Sans" font-weight="bold" font-size="62" stroke-linejoin="round" textLength="472" lengthAdjust="spacing" fill="#000" stroke="#000" stroke-width="1.5">www.setem.fr</text></g>
<g transform="translate(192.1,863.7) rotate(-18.2) skewX(-7) scale(1.5,1)"><text font-family="Liberation Sans" font-weight="bold" font-size="62" stroke-linejoin="round" textLength="472" lengthAdjust="spacing" fill="#000" stroke="#000" stroke-width="1.5">www.setem.fr</text></g>
<g transform="translate(191.4,862.8) rotate(-18.2) skewX(-7) scale(1.5,1)"><text font-family="Liberation Sans" font-weight="bold" font-size="62" stroke-linejoin="round" textLength="472" lengthAdjust="spacing" fill="#000" stroke="#000" stroke-width="1.5">www.setem.fr</text></g>
<g transform="translate(190.7,861.9) rotate(-18.2) skewX(-7) scale(1.5,1)"><text font-family="Liberation Sans" font-weight="bold" font-size="62" stroke-linejoin="round" textLength="472" lengthAdjust="spacing" fill="#000" stroke="#000" stroke-width="1.5">www.setem.fr</text></g>
<g transform="translate(190,861) rotate(-18.2) skewX(-7) scale(1.5,1)"><text font-family="Liberation Sans" font-weight="bold" font-size="62" stroke-linejoin="round" textLength="472" lengthAdjust="spacing" fill="#d3d3d3" stroke="#d3d3d3" stroke-width="1.5">www.setem.fr</text></g>
<g transform="translate(102.2,1040.66) rotate(-19) skewX(-7) scale(1.3,1)"><text font-family="Liberation Sans" font-weight="bold" font-size="92" stroke-linejoin="round" fill="#000" stroke="#000" stroke-width="4.5">S</text></g>
<g transform="translate(101.5,1039.76) rotate(-19) skewX(-7) scale(1.3,1)"><text font-family="Liberation Sans" font-weight="bold" font-size="92" stroke-linejoin="round" fill="#000" stroke="#000" stroke-width="4.5">S</text></g>
<g transform="translate(100.8,1038.86) rotate(-19) skewX(-7) scale(1.3,1)"><text font-family="Liberation Sans" font-weight="bold" font-size="92" stroke-linejoin="round" fill="#000" stroke="#000" stroke-width="4.5">S</text></g>
<g transform="translate(100.1,1037.96) rotate(-19) skewX(-7) scale(1.3,1)"><text font-family="Liberation Sans" font-weight="bold" font-size="92" stroke-linejoin="round" fill="#000" stroke="#000" stroke-width="4.5">S</text></g>
<g transform="translate(191.93,1009.76) rotate(-19) skewX(-7) scale(1.09,1)"><text font-family="Liberation Sans" font-weight="bold" font-size="92" stroke-linejoin="round" fill="#000" stroke="#000" stroke-width="4.5">E</text></g>
<g transform="translate(191.23,1008.86) rotate(-19) skewX(-7) scale(1.09,1)"><text font-family="Liberation Sans" font-weight="bold" font-size="92" stroke-linejoin="round" fill="#000" stroke="#000" stroke-width="4.5">E</text></g>
<g transform="translate(190.53,1007.96) rotate(-19) skewX(-7) scale(1.09,1)"><text font-family="Liberation Sans" font-weight="bold" font-size="92" stroke-linejoin="round" fill="#000" stroke="#000" stroke-width="4.5">E</text></g>
<g transform="translate(189.83,1007.06) rotate(-19) skewX(-7) scale(1.09,1)"><text font-family="Liberation Sans" font-weight="bold" font-size="92" stroke-linejoin="round" fill="#000" stroke="#000" stroke-width="4.5">E</text></g>
<g transform="translate(273.86,981.55) rotate(-19) skewX(-7) scale(1.34,1)"><text font-family="Liberation Sans" font-weight="bold" font-size="92" stroke-linejoin="round" fill="#000" stroke="#000" stroke-width="4.5">T</text></g>
<g transform="translate(273.16,980.65) rotate(-19) skewX(-7) scale(1.34,1)"><text font-family="Liberation Sans" font-weight="bold" font-size="92" stroke-linejoin="round" fill="#000" stroke="#000" stroke-width="4.5">T</text></g>
<g transform="translate(272.46,979.75) rotate(-19) skewX(-7) scale(1.34,1)"><text font-family="Liberation Sans" font-weight="bold" font-size="92" stroke-linejoin="round" fill="#000" stroke="#000" stroke-width="4.5">T</text></g>
<g transform="translate(271.76,978.85) rotate(-19) skewX(-7) scale(1.34,1)"><text font-family="Liberation Sans" font-weight="bold" font-size="92" stroke-linejoin="round" fill="#000" stroke="#000" stroke-width="4.5">T</text></g>
<g transform="translate(355.5,953.44) rotate(-19) skewX(-7) scale(1.09,1)"><text font-family="Liberation Sans" font-weight="bold" font-size="92" stroke-linejoin="round" fill="#000" stroke="#000" stroke-width="4.5">E</text></g>
<g transform="translate(354.8,952.54) rotate(-19) skewX(-7) scale(1.09,1)"><text font-family="Liberation Sans" font-weight="bold" font-size="92" stroke-linejoin="round" fill="#000" stroke="#000" stroke-width="4.5">E</text></g>
<g transform="translate(354.1,951.64) rotate(-19) skewX(-7) scale(1.09,1)"><text font-family="Liberation Sans" font-weight="bold" font-size="92" stroke-linejoin="round" fill="#000" stroke="#000" stroke-width="4.5">E</text></g>
<g transform="translate(353.4,950.74) rotate(-19) skewX(-7) scale(1.09,1)"><text font-family="Liberation Sans" font-weight="bold" font-size="92" stroke-linejoin="round" fill="#000" stroke="#000" stroke-width="4.5">E</text></g>
<g transform="translate(415.38,932.82) rotate(-19) skewX(-7) scale(1.45,1)"><text font-family="Liberation Sans" font-weight="bold" font-size="92" stroke-linejoin="round" fill="#000" stroke="#000" stroke-width="4.5">M</text></g>
<g transform="translate(414.68,931.92) rotate(-19) skewX(-7) scale(1.45,1)"><text font-family="Liberation Sans" font-weight="bold" font-size="92" stroke-linejoin="round" fill="#000" stroke="#000" stroke-width="4.5">M</text></g>
<g transform="translate(413.98,931.02) rotate(-19) skewX(-7) scale(1.45,1)"><text font-family="Liberation Sans" font-weight="bold" font-size="92" stroke-linejoin="round" fill="#000" stroke="#000" stroke-width="4.5">M</text></g>
<g transform="translate(413.28,930.12) rotate(-19) skewX(-7) scale(1.45,1)"><text font-family="Liberation Sans" font-weight="bold" font-size="92" stroke-linejoin="round" fill="#000" stroke="#000" stroke-width="4.5">M</text></g>
<g transform="translate(99.4,1037.06) rotate(-19) skewX(-7) scale(1.3,1)"><text font-family="Liberation Sans" font-weight="bold" font-size="92" stroke-linejoin="round" fill="#d3d3d3" stroke="#d3d3d3" stroke-width="4.5">S</text></g>
<g transform="translate(189.13,1006.16) rotate(-19) skewX(-7) scale(1.09,1)"><text font-family="Liberation Sans" font-weight="bold" font-size="92" stroke-linejoin="round" fill="#d3d3d3" stroke="#d3d3d3" stroke-width="4.5">E</text></g>
<g transform="translate(271.06,977.95) rotate(-19) skewX(-7) scale(1.34,1)"><text font-family="Liberation Sans" font-weight="bold" font-size="92" stroke-linejoin="round" fill="#d3d3d3" stroke="#d3d3d3" stroke-width="4.5">T</text></g>
<g transform="translate(352.7,949.84) rotate(-19) skewX(-7) scale(1.09,1)"><text font-family="Liberation Sans" font-weight="bold" font-size="92" stroke-linejoin="round" fill="#d3d3d3" stroke="#d3d3d3" stroke-width="4.5">E</text></g>
<g transform="translate(412.58,929.22) rotate(-19) skewX(-7) scale(1.45,1)"><text font-family="Liberation Sans" font-weight="bold" font-size="92" stroke-linejoin="round" fill="#d3d3d3" stroke="#d3d3d3" stroke-width="4.5">M</text></g>
<g transform="translate(621.2,860.16) rotate(-19) skewX(-7) scale(1.3,1)"><text font-family="Liberation Sans" font-weight="bold" font-size="92" stroke-linejoin="round" fill="#000" stroke="#000" stroke-width="4.5">S</text></g>
<g transform="translate(620.5,859.26) rotate(-19) skewX(-7) scale(1.3,1)"><text font-family="Liberation Sans" font-weight="bold" font-size="92" stroke-linejoin="round" fill="#000" stroke="#000" stroke-width="4.5">S</text></g>
<g transform="translate(619.8,858.36) rotate(-19) skewX(-7) scale(1.3,1)"><text font-family="Liberation Sans" font-weight="bold" font-size="92" stroke-linejoin="round" fill="#000" stroke="#000" stroke-width="4.5">S</text></g>
<g transform="translate(619.1,857.46) rotate(-19) skewX(-7) scale(1.3,1)"><text font-family="Liberation Sans" font-weight="bold" font-size="92" stroke-linejoin="round" fill="#000" stroke="#000" stroke-width="4.5">S</text></g>
<g transform="translate(710.93,829.26) rotate(-19) skewX(-7) scale(1.09,1)"><text font-family="Liberation Sans" font-weight="bold" font-size="92" stroke-linejoin="round" fill="#000" stroke="#000" stroke-width="4.5">E</text></g>
<g transform="translate(710.23,828.36) rotate(-19) skewX(-7) scale(1.09,1)"><text font-family="Liberation Sans" font-weight="bold" font-size="92" stroke-linejoin="round" fill="#000" stroke="#000" stroke-width="4.5">E</text></g>
<g transform="translate(709.53,827.46) rotate(-19) skewX(-7) scale(1.09,1)"><text font-family="Liberation Sans" font-weight="bold" font-size="92" stroke-linejoin="round" fill="#000" stroke="#000" stroke-width="4.5">E</text></g>
<g transform="translate(708.83,826.56) rotate(-19) skewX(-7) scale(1.09,1)"><text font-family="Liberation Sans" font-weight="bold" font-size="92" stroke-linejoin="round" fill="#000" stroke="#000" stroke-width="4.5">E</text></g>
<g transform="translate(792.86,801.05) rotate(-19) skewX(-7) scale(1.34,1)"><text font-family="Liberation Sans" font-weight="bold" font-size="92" stroke-linejoin="round" fill="#000" stroke="#000" stroke-width="4.5">T</text></g>
<g transform="translate(792.16,800.15) rotate(-19) skewX(-7) scale(1.34,1)"><text font-family="Liberation Sans" font-weight="bold" font-size="92" stroke-linejoin="round" fill="#000" stroke="#000" stroke-width="4.5">T</text></g>
<g transform="translate(791.46,799.25) rotate(-19) skewX(-7) scale(1.34,1)"><text font-family="Liberation Sans" font-weight="bold" font-size="92" stroke-linejoin="round" fill="#000" stroke="#000" stroke-width="4.5">T</text></g>
<g transform="translate(790.76,798.35) rotate(-19) skewX(-7) scale(1.34,1)"><text font-family="Liberation Sans" font-weight="bold" font-size="92" stroke-linejoin="round" fill="#000" stroke="#000" stroke-width="4.5">T</text></g>
<g transform="translate(874.5,772.94) rotate(-19) skewX(-7) scale(1.09,1)"><text font-family="Liberation Sans" font-weight="bold" font-size="92" stroke-linejoin="round" fill="#000" stroke="#000" stroke-width="4.5">E</text></g>
<g transform="translate(873.8,772.04) rotate(-19) skewX(-7) scale(1.09,1)"><text font-family="Liberation Sans" font-weight="bold" font-size="92" stroke-linejoin="round" fill="#000" stroke="#000" stroke-width="4.5">E</text></g>
<g transform="translate(873.1,771.14) rotate(-19) skewX(-7) scale(1.09,1)"><text font-family="Liberation Sans" font-weight="bold" font-size="92" stroke-linejoin="round" fill="#000" stroke="#000" stroke-width="4.5">E</text></g>
<g transform="translate(872.4,770.24) rotate(-19) skewX(-7) scale(1.09,1)"><text font-family="Liberation Sans" font-weight="bold" font-size="92" stroke-linejoin="round" fill="#000" stroke="#000" stroke-width="4.5">E</text></g>
<g transform="translate(934.38,752.32) rotate(-19) skewX(-7) scale(1.45,1)"><text font-family="Liberation Sans" font-weight="bold" font-size="92" stroke-linejoin="round" fill="#000" stroke="#000" stroke-width="4.5">M</text></g>
<g transform="translate(933.68,751.42) rotate(-19) skewX(-7) scale(1.45,1)"><text font-family="Liberation Sans" font-weight="bold" font-size="92" stroke-linejoin="round" fill="#000" stroke="#000" stroke-width="4.5">M</text></g>
<g transform="translate(932.98,750.52) rotate(-19) skewX(-7) scale(1.45,1)"><text font-family="Liberation Sans" font-weight="bold" font-size="92" stroke-linejoin="round" fill="#000" stroke="#000" stroke-width="4.5">M</text></g>
<g transform="translate(932.28,749.62) rotate(-19) skewX(-7) scale(1.45,1)"><text font-family="Liberation Sans" font-weight="bold" font-size="92" stroke-linejoin="round" fill="#000" stroke="#000" stroke-width="4.5">M</text></g>
<g transform="translate(618.4,856.56) rotate(-19) skewX(-7) scale(1.3,1)"><text font-family="Liberation Sans" font-weight="bold" font-size="92" stroke-linejoin="round" fill="#d3d3d3" stroke="#d3d3d3" stroke-width="4.5">S</text></g>
<g transform="translate(708.13,825.66) rotate(-19) skewX(-7) scale(1.09,1)"><text font-family="Liberation Sans" font-weight="bold" font-size="92" stroke-linejoin="round" fill="#d3d3d3" stroke="#d3d3d3" stroke-width="4.5">E</text></g>
<g transform="translate(790.06,797.45) rotate(-19) skewX(-7) scale(1.34,1)"><text font-family="Liberation Sans" font-weight="bold" font-size="92" stroke-linejoin="round" fill="#d3d3d3" stroke="#d3d3d3" stroke-width="4.5">T</text></g>
<g transform="translate(871.7,769.34) rotate(-19) skewX(-7) scale(1.09,1)"><text font-family="Liberation Sans" font-weight="bold" font-size="92" stroke-linejoin="round" fill="#d3d3d3" stroke="#d3d3d3" stroke-width="4.5">E</text></g>
<g transform="translate(931.58,748.72) rotate(-19) skewX(-7) scale(1.45,1)"><text font-family="Liberation Sans" font-weight="bold" font-size="92" stroke-linejoin="round" fill="#d3d3d3" stroke="#d3d3d3" stroke-width="4.5">M</text></g>
<g transform="translate(207.8,1100.1) rotate(-18.5) skewX(-7) scale(1.37,1)"><text font-family="Liberation Sans" font-weight="bold" font-size="52" stroke-linejoin="round" textLength="620.44" lengthAdjust="spacing" fill="#000" stroke="#000" stroke-width="1.5">commercial@setem.fr</text></g>
<g transform="translate(207.1,1099.2) rotate(-18.5) skewX(-7) scale(1.37,1)"><text font-family="Liberation Sans" font-weight="bold" font-size="52" stroke-linejoin="round" textLength="620.44" lengthAdjust="spacing" fill="#000" stroke="#000" stroke-width="1.5">commercial@setem.fr</text></g>
<g transform="translate(206.4,1098.3) rotate(-18.5) skewX(-7) scale(1.37,1)"><text font-family="Liberation Sans" font-weight="bold" font-size="52" stroke-linejoin="round" textLength="620.44" lengthAdjust="spacing" fill="#000" stroke="#000" stroke-width="1.5">commercial@setem.fr</text></g>
<g transform="translate(205.7,1097.4) rotate(-18.5) skewX(-7) scale(1.37,1)"><text font-family="Liberation Sans" font-weight="bold" font-size="52" stroke-linejoin="round" textLength="620.44" lengthAdjust="spacing" fill="#000" stroke="#000" stroke-width="1.5">commercial@setem.fr</text></g>
<g transform="translate(205,1096.5) rotate(-18.5) skewX(-7) scale(1.37,1)"><text font-family="Liberation Sans" font-weight="bold" font-size="52" stroke-linejoin="round" textLength="620.44" lengthAdjust="spacing" fill="#d3d3d3" stroke="#d3d3d3" stroke-width="1.5">commercial@setem.fr</text></g>
</g>
</svg></body></html>
